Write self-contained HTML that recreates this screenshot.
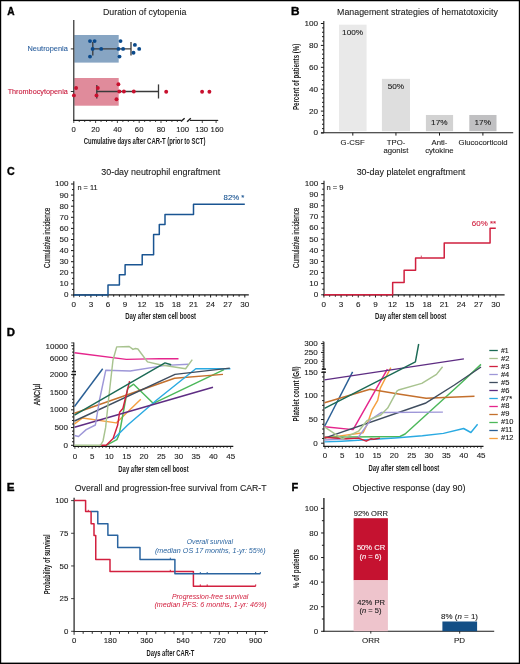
<!DOCTYPE html>
<html><head><meta charset="utf-8"><style>
html,body{margin:0;padding:0;background:#fff;}
svg{display:block;will-change:transform;}
text{font-family:"Liberation Sans",sans-serif;}
</style></head><body>
<svg width="520" height="664" viewBox="0 0 520 664">
<rect x="0" y="0" width="520" height="664" fill="#fff"/>
<text x="7.25" y="14.80" font-size="10.5" fill="#000" font-weight="bold" font-style="normal" textLength="7.33" lengthAdjust="spacingAndGlyphs" stroke="#000" stroke-width="0.35">A</text>
<text x="102.99" y="15.30" font-size="9.9" fill="#1a1a1a" font-weight="normal" font-style="normal" textLength="83.31" lengthAdjust="spacingAndGlyphs" stroke="#1a1a1a" stroke-width="0.1">Duration of cytopenia</text>
<rect x="74.30" y="35.00" width="44.40" height="27.60" fill="#87a5c3"/>
<rect x="74.30" y="78.00" width="44.40" height="27.70" fill="#e08b9b"/>
<line x1="73.80" y1="20.00" x2="73.80" y2="120.90" stroke="#1a1a1a" stroke-width="1.1"/>
<line x1="73.30" y1="120.40" x2="181.40" y2="120.40" stroke="#1a1a1a" stroke-width="1.1"/>
<line x1="181.00" y1="121.50" x2="184.60" y2="118.20" stroke="#1a1a1a" stroke-width="1.4"/>
<line x1="187.10" y1="121.70" x2="190.80" y2="118.30" stroke="#1a1a1a" stroke-width="1.4"/>
<line x1="190.00" y1="120.40" x2="218.20" y2="120.40" stroke="#1a1a1a" stroke-width="1.1"/>
<line x1="73.80" y1="120.40" x2="73.80" y2="123.00" stroke="#1a1a1a" stroke-width="0.8"/>
<line x1="79.25" y1="120.40" x2="79.25" y2="122.00" stroke="#1a1a1a" stroke-width="0.8"/>
<line x1="84.70" y1="120.40" x2="84.70" y2="122.00" stroke="#1a1a1a" stroke-width="0.8"/>
<line x1="90.15" y1="120.40" x2="90.15" y2="122.00" stroke="#1a1a1a" stroke-width="0.8"/>
<line x1="95.60" y1="120.40" x2="95.60" y2="123.00" stroke="#1a1a1a" stroke-width="0.8"/>
<line x1="101.05" y1="120.40" x2="101.05" y2="122.00" stroke="#1a1a1a" stroke-width="0.8"/>
<line x1="106.50" y1="120.40" x2="106.50" y2="122.00" stroke="#1a1a1a" stroke-width="0.8"/>
<line x1="111.95" y1="120.40" x2="111.95" y2="122.00" stroke="#1a1a1a" stroke-width="0.8"/>
<line x1="117.40" y1="120.40" x2="117.40" y2="123.00" stroke="#1a1a1a" stroke-width="0.8"/>
<line x1="122.85" y1="120.40" x2="122.85" y2="122.00" stroke="#1a1a1a" stroke-width="0.8"/>
<line x1="128.30" y1="120.40" x2="128.30" y2="122.00" stroke="#1a1a1a" stroke-width="0.8"/>
<line x1="133.75" y1="120.40" x2="133.75" y2="122.00" stroke="#1a1a1a" stroke-width="0.8"/>
<line x1="139.20" y1="120.40" x2="139.20" y2="123.00" stroke="#1a1a1a" stroke-width="0.8"/>
<line x1="144.65" y1="120.40" x2="144.65" y2="122.00" stroke="#1a1a1a" stroke-width="0.8"/>
<line x1="150.10" y1="120.40" x2="150.10" y2="122.00" stroke="#1a1a1a" stroke-width="0.8"/>
<line x1="155.55" y1="120.40" x2="155.55" y2="122.00" stroke="#1a1a1a" stroke-width="0.8"/>
<line x1="161.00" y1="120.40" x2="161.00" y2="123.00" stroke="#1a1a1a" stroke-width="0.8"/>
<line x1="166.45" y1="120.40" x2="166.45" y2="122.00" stroke="#1a1a1a" stroke-width="0.8"/>
<line x1="171.90" y1="120.40" x2="171.90" y2="122.00" stroke="#1a1a1a" stroke-width="0.8"/>
<line x1="177.35" y1="120.40" x2="177.35" y2="122.00" stroke="#1a1a1a" stroke-width="0.8"/>
<line x1="202.30" y1="120.40" x2="202.30" y2="123.00" stroke="#1a1a1a" stroke-width="0.8"/>
<line x1="216.10" y1="120.40" x2="216.10" y2="123.00" stroke="#1a1a1a" stroke-width="0.8"/>
<text x="71.64" y="131.60" font-size="7.0" fill="#1a1a1a" font-weight="normal" font-style="normal" textLength="4.28" lengthAdjust="spacingAndGlyphs" stroke="#1a1a1a" stroke-width="0.1">0</text>
<text x="91.27" y="131.60" font-size="7.0" fill="#1a1a1a" font-weight="normal" font-style="normal" textLength="8.57" lengthAdjust="spacingAndGlyphs" stroke="#1a1a1a" stroke-width="0.1">20</text>
<text x="113.18" y="131.60" font-size="7.0" fill="#1a1a1a" font-weight="normal" font-style="normal" textLength="8.57" lengthAdjust="spacingAndGlyphs" stroke="#1a1a1a" stroke-width="0.1">40</text>
<text x="134.87" y="131.60" font-size="7.0" fill="#1a1a1a" font-weight="normal" font-style="normal" textLength="8.57" lengthAdjust="spacingAndGlyphs" stroke="#1a1a1a" stroke-width="0.1">60</text>
<text x="156.69" y="131.60" font-size="7.0" fill="#1a1a1a" font-weight="normal" font-style="normal" textLength="8.57" lengthAdjust="spacingAndGlyphs" stroke="#1a1a1a" stroke-width="0.1">80</text>
<text x="176.24" y="131.60" font-size="7.0" fill="#1a1a1a" font-weight="normal" font-style="normal" textLength="12.85" lengthAdjust="spacingAndGlyphs" stroke="#1a1a1a" stroke-width="0.1">100</text>
<text x="195.24" y="131.60" font-size="7.0" fill="#1a1a1a" font-weight="normal" font-style="normal" textLength="12.85" lengthAdjust="spacingAndGlyphs" stroke="#1a1a1a" stroke-width="0.1">130</text>
<text x="210.64" y="131.60" font-size="7.0" fill="#1a1a1a" font-weight="normal" font-style="normal" textLength="12.85" lengthAdjust="spacingAndGlyphs" stroke="#1a1a1a" stroke-width="0.1">160</text>
<text x="83.76" y="144.40" font-size="9.9" fill="#1a1a1a" font-weight="bold" font-style="normal" textLength="121.72" lengthAdjust="spacingAndGlyphs">Cumulative days after CAR-T (prior to SCT)</text>
<line x1="70.80" y1="48.90" x2="73.80" y2="48.90" stroke="#1a1a1a" stroke-width="0.9"/>
<line x1="70.80" y1="91.50" x2="73.80" y2="91.50" stroke="#1a1a1a" stroke-width="0.9"/>
<text x="27.51" y="51.00" font-size="7.4" fill="#2a5f9e" font-weight="normal" font-style="normal" textLength="40.32" lengthAdjust="spacingAndGlyphs" stroke="#2a5f9e" stroke-width="0.1">Neutropenia</text>
<text x="7.65" y="93.60" font-size="7.4" fill="#c8173a" font-weight="normal" font-style="normal" textLength="60.16" lengthAdjust="spacingAndGlyphs" stroke="#c8173a" stroke-width="0.1">Thrombocytopenia</text>
<line x1="92.80" y1="48.90" x2="131.00" y2="48.90" stroke="#3a3a3a" stroke-width="1.3"/>
<line x1="92.80" y1="42.00" x2="92.80" y2="55.40" stroke="#3a3a3a" stroke-width="1.3"/>
<line x1="131.00" y1="42.00" x2="131.00" y2="55.40" stroke="#3a3a3a" stroke-width="1.3"/>
<line x1="96.80" y1="91.50" x2="158.50" y2="91.50" stroke="#3a3a3a" stroke-width="1.3"/>
<line x1="96.80" y1="85.00" x2="96.80" y2="98.50" stroke="#3a3a3a" stroke-width="1.3"/>
<line x1="158.50" y1="84.40" x2="158.50" y2="98.50" stroke="#3a3a3a" stroke-width="1.3"/>
<circle cx="90.00" cy="41.10" r="1.95" fill="#0b4a8b"/>
<circle cx="94.60" cy="41.10" r="1.95" fill="#0b4a8b"/>
<circle cx="92.60" cy="48.90" r="1.95" fill="#0b4a8b"/>
<circle cx="101.20" cy="48.90" r="1.95" fill="#0b4a8b"/>
<circle cx="90.00" cy="56.60" r="1.95" fill="#0b4a8b"/>
<circle cx="120.50" cy="41.10" r="1.95" fill="#0b4a8b"/>
<circle cx="118.50" cy="48.90" r="1.95" fill="#0b4a8b"/>
<circle cx="123.10" cy="48.90" r="1.95" fill="#0b4a8b"/>
<circle cx="119.50" cy="56.60" r="1.95" fill="#0b4a8b"/>
<circle cx="134.90" cy="44.90" r="1.95" fill="#0b4a8b"/>
<circle cx="139.20" cy="48.90" r="1.95" fill="#0b4a8b"/>
<circle cx="133.50" cy="52.80" r="1.95" fill="#0b4a8b"/>
<circle cx="76.10" cy="88.00" r="1.95" fill="#c8102e"/>
<circle cx="73.90" cy="95.40" r="1.95" fill="#c8102e"/>
<circle cx="97.80" cy="88.00" r="1.95" fill="#c8102e"/>
<circle cx="96.50" cy="95.40" r="1.95" fill="#c8102e"/>
<circle cx="118.40" cy="84.20" r="1.95" fill="#c8102e"/>
<circle cx="119.30" cy="91.50" r="1.95" fill="#c8102e"/>
<circle cx="123.90" cy="91.50" r="1.95" fill="#c8102e"/>
<circle cx="133.80" cy="91.50" r="1.95" fill="#c8102e"/>
<circle cx="116.50" cy="99.20" r="1.95" fill="#c8102e"/>
<circle cx="166.20" cy="91.70" r="1.95" fill="#c8102e"/>
<circle cx="202.10" cy="91.70" r="1.95" fill="#c8102e"/>
<circle cx="209.40" cy="91.70" r="1.95" fill="#c8102e"/>
<text x="290.93" y="15.00" font-size="10.5" fill="#000" font-weight="bold" font-style="normal" textLength="8.52" lengthAdjust="spacingAndGlyphs" stroke="#000" stroke-width="0.35">B</text>
<text x="337.09" y="15.00" font-size="9.9" fill="#1a1a1a" font-weight="normal" font-style="normal" textLength="160.72" lengthAdjust="spacingAndGlyphs" stroke="#1a1a1a" stroke-width="0.1">Management strategies of hematotoxicity</text>
<line x1="323.80" y1="21.00" x2="323.80" y2="132.90" stroke="#1a1a1a" stroke-width="1.1"/>
<line x1="321.00" y1="132.70" x2="513.20" y2="132.70" stroke="#1a1a1a" stroke-width="1.1"/>
<line x1="320.90" y1="133.00" x2="323.80" y2="133.00" stroke="#1a1a1a" stroke-width="1.0"/>
<line x1="322.00" y1="128.62" x2="323.80" y2="128.62" stroke="#1a1a1a" stroke-width="1.0"/>
<line x1="322.00" y1="124.24" x2="323.80" y2="124.24" stroke="#1a1a1a" stroke-width="1.0"/>
<line x1="322.00" y1="119.86" x2="323.80" y2="119.86" stroke="#1a1a1a" stroke-width="1.0"/>
<line x1="322.00" y1="115.48" x2="323.80" y2="115.48" stroke="#1a1a1a" stroke-width="1.0"/>
<line x1="320.90" y1="111.10" x2="323.80" y2="111.10" stroke="#1a1a1a" stroke-width="1.0"/>
<line x1="322.00" y1="106.72" x2="323.80" y2="106.72" stroke="#1a1a1a" stroke-width="1.0"/>
<line x1="322.00" y1="102.34" x2="323.80" y2="102.34" stroke="#1a1a1a" stroke-width="1.0"/>
<line x1="322.00" y1="97.96" x2="323.80" y2="97.96" stroke="#1a1a1a" stroke-width="1.0"/>
<line x1="322.00" y1="93.58" x2="323.80" y2="93.58" stroke="#1a1a1a" stroke-width="1.0"/>
<line x1="320.90" y1="89.20" x2="323.80" y2="89.20" stroke="#1a1a1a" stroke-width="1.0"/>
<line x1="322.00" y1="84.82" x2="323.80" y2="84.82" stroke="#1a1a1a" stroke-width="1.0"/>
<line x1="322.00" y1="80.44" x2="323.80" y2="80.44" stroke="#1a1a1a" stroke-width="1.0"/>
<line x1="322.00" y1="76.06" x2="323.80" y2="76.06" stroke="#1a1a1a" stroke-width="1.0"/>
<line x1="322.00" y1="71.68" x2="323.80" y2="71.68" stroke="#1a1a1a" stroke-width="1.0"/>
<line x1="320.90" y1="67.30" x2="323.80" y2="67.30" stroke="#1a1a1a" stroke-width="1.0"/>
<line x1="322.00" y1="62.92" x2="323.80" y2="62.92" stroke="#1a1a1a" stroke-width="1.0"/>
<line x1="322.00" y1="58.54" x2="323.80" y2="58.54" stroke="#1a1a1a" stroke-width="1.0"/>
<line x1="322.00" y1="54.16" x2="323.80" y2="54.16" stroke="#1a1a1a" stroke-width="1.0"/>
<line x1="322.00" y1="49.78" x2="323.80" y2="49.78" stroke="#1a1a1a" stroke-width="1.0"/>
<line x1="320.90" y1="45.40" x2="323.80" y2="45.40" stroke="#1a1a1a" stroke-width="1.0"/>
<line x1="322.00" y1="41.02" x2="323.80" y2="41.02" stroke="#1a1a1a" stroke-width="1.0"/>
<line x1="322.00" y1="36.64" x2="323.80" y2="36.64" stroke="#1a1a1a" stroke-width="1.0"/>
<line x1="322.00" y1="32.26" x2="323.80" y2="32.26" stroke="#1a1a1a" stroke-width="1.0"/>
<line x1="322.00" y1="27.88" x2="323.80" y2="27.88" stroke="#1a1a1a" stroke-width="1.0"/>
<line x1="320.90" y1="23.50" x2="323.80" y2="23.50" stroke="#1a1a1a" stroke-width="1.0"/>
<text x="313.54" y="135.40" font-size="7.8" fill="#1a1a1a" font-weight="normal" font-style="normal" textLength="4.56" lengthAdjust="spacingAndGlyphs" stroke="#1a1a1a" stroke-width="0.1">0</text>
<text x="309.00" y="113.50" font-size="7.8" fill="#1a1a1a" font-weight="normal" font-style="normal" textLength="9.11" lengthAdjust="spacingAndGlyphs" stroke="#1a1a1a" stroke-width="0.1">20</text>
<text x="309.00" y="91.60" font-size="7.8" fill="#1a1a1a" font-weight="normal" font-style="normal" textLength="9.11" lengthAdjust="spacingAndGlyphs" stroke="#1a1a1a" stroke-width="0.1">40</text>
<text x="309.00" y="69.70" font-size="7.8" fill="#1a1a1a" font-weight="normal" font-style="normal" textLength="9.11" lengthAdjust="spacingAndGlyphs" stroke="#1a1a1a" stroke-width="0.1">60</text>
<text x="309.00" y="47.80" font-size="7.8" fill="#1a1a1a" font-weight="normal" font-style="normal" textLength="9.11" lengthAdjust="spacingAndGlyphs" stroke="#1a1a1a" stroke-width="0.1">80</text>
<text x="304.45" y="25.90" font-size="7.8" fill="#1a1a1a" font-weight="normal" font-style="normal" textLength="13.67" lengthAdjust="spacingAndGlyphs" stroke="#1a1a1a" stroke-width="0.1">100</text>
<rect x="339.00" y="24.70" width="27.60" height="106.50" fill="#e9e9e9"/>
<text x="342.13" y="34.70" font-size="7.6" fill="#1a1a1a" font-weight="normal" font-style="normal" textLength="20.99" lengthAdjust="spacingAndGlyphs" stroke="#1a1a1a" stroke-width="0.1">100%</text>
<line x1="352.80" y1="132.70" x2="352.80" y2="135.60" stroke="#1a1a1a" stroke-width="1.0"/>
<rect x="381.90" y="78.85" width="28.10" height="52.35" fill="#dedede"/>
<text x="387.72" y="88.85" font-size="7.6" fill="#1a1a1a" font-weight="normal" font-style="normal" textLength="16.43" lengthAdjust="spacingAndGlyphs" stroke="#1a1a1a" stroke-width="0.1">50%</text>
<line x1="395.95" y1="132.70" x2="395.95" y2="135.60" stroke="#1a1a1a" stroke-width="1.0"/>
<rect x="425.90" y="114.98" width="27.20" height="16.21" fill="#d2d2d2"/>
<text x="431.13" y="124.98" font-size="7.6" fill="#1a1a1a" font-weight="normal" font-style="normal" textLength="16.43" lengthAdjust="spacingAndGlyphs" stroke="#1a1a1a" stroke-width="0.1">17%</text>
<line x1="439.50" y1="132.70" x2="439.50" y2="135.60" stroke="#1a1a1a" stroke-width="1.0"/>
<rect x="469.30" y="114.98" width="27.20" height="16.21" fill="#c0c0c2"/>
<text x="474.53" y="124.98" font-size="7.6" fill="#1a1a1a" font-weight="normal" font-style="normal" textLength="16.43" lengthAdjust="spacingAndGlyphs" stroke="#1a1a1a" stroke-width="0.1">17%</text>
<line x1="482.90" y1="132.70" x2="482.90" y2="135.60" stroke="#1a1a1a" stroke-width="1.0"/>
<text x="340.62" y="145.10" font-size="7.9" fill="#1a1a1a" font-weight="normal" font-style="normal" textLength="24.08" lengthAdjust="spacingAndGlyphs" stroke="#1a1a1a" stroke-width="0.1">G-CSF</text>
<text x="386.85" y="145.10" font-size="7.9" fill="#1a1a1a" font-weight="normal" font-style="normal" textLength="18.49" lengthAdjust="spacingAndGlyphs" stroke="#1a1a1a" stroke-width="0.1">TPO-</text>
<text x="383.40" y="153.00" font-size="7.9" fill="#1a1a1a" font-weight="normal" font-style="normal" textLength="24.97" lengthAdjust="spacingAndGlyphs" stroke="#1a1a1a" stroke-width="0.1">agonist</text>
<text x="431.50" y="145.10" font-size="7.9" fill="#1a1a1a" font-weight="normal" font-style="normal" textLength="15.92" lengthAdjust="spacingAndGlyphs" stroke="#1a1a1a" stroke-width="0.1">Anti-</text>
<text x="425.13" y="153.00" font-size="7.9" fill="#1a1a1a" font-weight="normal" font-style="normal" textLength="28.40" lengthAdjust="spacingAndGlyphs" stroke="#1a1a1a" stroke-width="0.1">cytokine</text>
<text x="458.44" y="145.10" font-size="7.9" fill="#1a1a1a" font-weight="normal" font-style="normal" textLength="49.05" lengthAdjust="spacingAndGlyphs" stroke="#1a1a1a" stroke-width="0.1">Glucocorticoid</text>
<text x="299.00" y="110.10" font-size="9.2" fill="#1a1a1a" font-weight="bold" font-style="normal" textLength="66.41" lengthAdjust="spacingAndGlyphs" transform="rotate(-90 299.00 110.10)">Percent of patients (%)</text>
<text x="7.07" y="175.40" font-size="10.5" fill="#000" font-weight="bold" font-style="normal" textLength="7.72" lengthAdjust="spacingAndGlyphs" stroke="#000" stroke-width="0.35">C</text>
<text x="101.24" y="175.30" font-size="9.9" fill="#1a1a1a" font-weight="normal" font-style="normal" textLength="119.02" lengthAdjust="spacingAndGlyphs" stroke="#1a1a1a" stroke-width="0.1">30-day neutrophil engraftment</text>
<line x1="73.80" y1="181.20" x2="73.80" y2="295.40" stroke="#1a1a1a" stroke-width="1.1"/>
<line x1="73.30" y1="294.90" x2="248.80" y2="294.90" stroke="#1a1a1a" stroke-width="1.1"/>
<line x1="71.00" y1="295.00" x2="73.80" y2="295.00" stroke="#1a1a1a" stroke-width="1.0"/>
<line x1="72.00" y1="289.45" x2="73.80" y2="289.45" stroke="#1a1a1a" stroke-width="1.0"/>
<line x1="71.00" y1="283.90" x2="73.80" y2="283.90" stroke="#1a1a1a" stroke-width="1.0"/>
<line x1="72.00" y1="278.35" x2="73.80" y2="278.35" stroke="#1a1a1a" stroke-width="1.0"/>
<line x1="71.00" y1="272.80" x2="73.80" y2="272.80" stroke="#1a1a1a" stroke-width="1.0"/>
<line x1="72.00" y1="267.25" x2="73.80" y2="267.25" stroke="#1a1a1a" stroke-width="1.0"/>
<line x1="71.00" y1="261.70" x2="73.80" y2="261.70" stroke="#1a1a1a" stroke-width="1.0"/>
<line x1="72.00" y1="256.15" x2="73.80" y2="256.15" stroke="#1a1a1a" stroke-width="1.0"/>
<line x1="71.00" y1="250.60" x2="73.80" y2="250.60" stroke="#1a1a1a" stroke-width="1.0"/>
<line x1="72.00" y1="245.05" x2="73.80" y2="245.05" stroke="#1a1a1a" stroke-width="1.0"/>
<line x1="71.00" y1="239.50" x2="73.80" y2="239.50" stroke="#1a1a1a" stroke-width="1.0"/>
<line x1="72.00" y1="233.95" x2="73.80" y2="233.95" stroke="#1a1a1a" stroke-width="1.0"/>
<line x1="71.00" y1="228.40" x2="73.80" y2="228.40" stroke="#1a1a1a" stroke-width="1.0"/>
<line x1="72.00" y1="222.85" x2="73.80" y2="222.85" stroke="#1a1a1a" stroke-width="1.0"/>
<line x1="71.00" y1="217.30" x2="73.80" y2="217.30" stroke="#1a1a1a" stroke-width="1.0"/>
<line x1="72.00" y1="211.75" x2="73.80" y2="211.75" stroke="#1a1a1a" stroke-width="1.0"/>
<line x1="71.00" y1="206.20" x2="73.80" y2="206.20" stroke="#1a1a1a" stroke-width="1.0"/>
<line x1="72.00" y1="200.65" x2="73.80" y2="200.65" stroke="#1a1a1a" stroke-width="1.0"/>
<line x1="71.00" y1="195.10" x2="73.80" y2="195.10" stroke="#1a1a1a" stroke-width="1.0"/>
<line x1="72.00" y1="189.55" x2="73.80" y2="189.55" stroke="#1a1a1a" stroke-width="1.0"/>
<line x1="71.00" y1="184.00" x2="73.80" y2="184.00" stroke="#1a1a1a" stroke-width="1.0"/>
<text x="64.08" y="297.40" font-size="7.8" fill="#1a1a1a" font-weight="normal" font-style="normal" textLength="4.51" lengthAdjust="spacingAndGlyphs" stroke="#1a1a1a" stroke-width="0.1">0</text>
<text x="59.58" y="286.30" font-size="7.8" fill="#1a1a1a" font-weight="normal" font-style="normal" textLength="9.02" lengthAdjust="spacingAndGlyphs" stroke="#1a1a1a" stroke-width="0.1">10</text>
<text x="59.58" y="275.20" font-size="7.8" fill="#1a1a1a" font-weight="normal" font-style="normal" textLength="9.02" lengthAdjust="spacingAndGlyphs" stroke="#1a1a1a" stroke-width="0.1">20</text>
<text x="59.58" y="264.10" font-size="7.8" fill="#1a1a1a" font-weight="normal" font-style="normal" textLength="9.02" lengthAdjust="spacingAndGlyphs" stroke="#1a1a1a" stroke-width="0.1">30</text>
<text x="59.58" y="253.00" font-size="7.8" fill="#1a1a1a" font-weight="normal" font-style="normal" textLength="9.02" lengthAdjust="spacingAndGlyphs" stroke="#1a1a1a" stroke-width="0.1">40</text>
<text x="59.58" y="241.90" font-size="7.8" fill="#1a1a1a" font-weight="normal" font-style="normal" textLength="9.02" lengthAdjust="spacingAndGlyphs" stroke="#1a1a1a" stroke-width="0.1">50</text>
<text x="59.58" y="230.80" font-size="7.8" fill="#1a1a1a" font-weight="normal" font-style="normal" textLength="9.02" lengthAdjust="spacingAndGlyphs" stroke="#1a1a1a" stroke-width="0.1">60</text>
<text x="59.58" y="219.70" font-size="7.8" fill="#1a1a1a" font-weight="normal" font-style="normal" textLength="9.02" lengthAdjust="spacingAndGlyphs" stroke="#1a1a1a" stroke-width="0.1">70</text>
<text x="59.58" y="208.60" font-size="7.8" fill="#1a1a1a" font-weight="normal" font-style="normal" textLength="9.02" lengthAdjust="spacingAndGlyphs" stroke="#1a1a1a" stroke-width="0.1">80</text>
<text x="59.58" y="197.50" font-size="7.8" fill="#1a1a1a" font-weight="normal" font-style="normal" textLength="9.02" lengthAdjust="spacingAndGlyphs" stroke="#1a1a1a" stroke-width="0.1">90</text>
<text x="55.08" y="186.40" font-size="7.8" fill="#1a1a1a" font-weight="normal" font-style="normal" textLength="13.53" lengthAdjust="spacingAndGlyphs" stroke="#1a1a1a" stroke-width="0.1">100</text>
<line x1="73.80" y1="294.90" x2="73.80" y2="297.50" stroke="#1a1a1a" stroke-width="1.0"/>
<line x1="79.50" y1="294.90" x2="79.50" y2="296.70" stroke="#1a1a1a" stroke-width="1.0"/>
<line x1="85.20" y1="294.90" x2="85.20" y2="296.70" stroke="#1a1a1a" stroke-width="1.0"/>
<line x1="90.90" y1="294.90" x2="90.90" y2="297.50" stroke="#1a1a1a" stroke-width="1.0"/>
<line x1="96.60" y1="294.90" x2="96.60" y2="296.70" stroke="#1a1a1a" stroke-width="1.0"/>
<line x1="102.30" y1="294.90" x2="102.30" y2="296.70" stroke="#1a1a1a" stroke-width="1.0"/>
<line x1="108.00" y1="294.90" x2="108.00" y2="297.50" stroke="#1a1a1a" stroke-width="1.0"/>
<line x1="113.70" y1="294.90" x2="113.70" y2="296.70" stroke="#1a1a1a" stroke-width="1.0"/>
<line x1="119.40" y1="294.90" x2="119.40" y2="296.70" stroke="#1a1a1a" stroke-width="1.0"/>
<line x1="125.10" y1="294.90" x2="125.10" y2="297.50" stroke="#1a1a1a" stroke-width="1.0"/>
<line x1="130.80" y1="294.90" x2="130.80" y2="296.70" stroke="#1a1a1a" stroke-width="1.0"/>
<line x1="136.50" y1="294.90" x2="136.50" y2="296.70" stroke="#1a1a1a" stroke-width="1.0"/>
<line x1="142.20" y1="294.90" x2="142.20" y2="297.50" stroke="#1a1a1a" stroke-width="1.0"/>
<line x1="147.90" y1="294.90" x2="147.90" y2="296.70" stroke="#1a1a1a" stroke-width="1.0"/>
<line x1="153.60" y1="294.90" x2="153.60" y2="296.70" stroke="#1a1a1a" stroke-width="1.0"/>
<line x1="159.30" y1="294.90" x2="159.30" y2="297.50" stroke="#1a1a1a" stroke-width="1.0"/>
<line x1="165.00" y1="294.90" x2="165.00" y2="296.70" stroke="#1a1a1a" stroke-width="1.0"/>
<line x1="170.70" y1="294.90" x2="170.70" y2="296.70" stroke="#1a1a1a" stroke-width="1.0"/>
<line x1="176.40" y1="294.90" x2="176.40" y2="297.50" stroke="#1a1a1a" stroke-width="1.0"/>
<line x1="182.10" y1="294.90" x2="182.10" y2="296.70" stroke="#1a1a1a" stroke-width="1.0"/>
<line x1="187.80" y1="294.90" x2="187.80" y2="296.70" stroke="#1a1a1a" stroke-width="1.0"/>
<line x1="193.50" y1="294.90" x2="193.50" y2="297.50" stroke="#1a1a1a" stroke-width="1.0"/>
<line x1="199.20" y1="294.90" x2="199.20" y2="296.70" stroke="#1a1a1a" stroke-width="1.0"/>
<line x1="204.90" y1="294.90" x2="204.90" y2="296.70" stroke="#1a1a1a" stroke-width="1.0"/>
<line x1="210.60" y1="294.90" x2="210.60" y2="297.50" stroke="#1a1a1a" stroke-width="1.0"/>
<line x1="216.30" y1="294.90" x2="216.30" y2="296.70" stroke="#1a1a1a" stroke-width="1.0"/>
<line x1="222.00" y1="294.90" x2="222.00" y2="296.70" stroke="#1a1a1a" stroke-width="1.0"/>
<line x1="227.70" y1="294.90" x2="227.70" y2="297.50" stroke="#1a1a1a" stroke-width="1.0"/>
<line x1="233.40" y1="294.90" x2="233.40" y2="296.70" stroke="#1a1a1a" stroke-width="1.0"/>
<line x1="239.10" y1="294.90" x2="239.10" y2="296.70" stroke="#1a1a1a" stroke-width="1.0"/>
<line x1="244.80" y1="294.90" x2="244.80" y2="297.50" stroke="#1a1a1a" stroke-width="1.0"/>
<text x="71.53" y="306.60" font-size="7.8" fill="#1a1a1a" font-weight="normal" font-style="normal" textLength="4.51" lengthAdjust="spacingAndGlyphs" stroke="#1a1a1a" stroke-width="0.1">0</text>
<text x="88.65" y="306.60" font-size="7.8" fill="#1a1a1a" font-weight="normal" font-style="normal" textLength="4.51" lengthAdjust="spacingAndGlyphs" stroke="#1a1a1a" stroke-width="0.1">3</text>
<text x="105.71" y="306.60" font-size="7.8" fill="#1a1a1a" font-weight="normal" font-style="normal" textLength="4.51" lengthAdjust="spacingAndGlyphs" stroke="#1a1a1a" stroke-width="0.1">6</text>
<text x="122.85" y="306.60" font-size="7.8" fill="#1a1a1a" font-weight="normal" font-style="normal" textLength="4.51" lengthAdjust="spacingAndGlyphs" stroke="#1a1a1a" stroke-width="0.1">9</text>
<text x="137.60" y="306.60" font-size="7.8" fill="#1a1a1a" font-weight="normal" font-style="normal" textLength="9.02" lengthAdjust="spacingAndGlyphs" stroke="#1a1a1a" stroke-width="0.1">12</text>
<text x="154.66" y="306.60" font-size="7.8" fill="#1a1a1a" font-weight="normal" font-style="normal" textLength="9.02" lengthAdjust="spacingAndGlyphs" stroke="#1a1a1a" stroke-width="0.1">15</text>
<text x="171.76" y="306.60" font-size="7.8" fill="#1a1a1a" font-weight="normal" font-style="normal" textLength="9.02" lengthAdjust="spacingAndGlyphs" stroke="#1a1a1a" stroke-width="0.1">18</text>
<text x="188.98" y="306.60" font-size="7.8" fill="#1a1a1a" font-weight="normal" font-style="normal" textLength="9.02" lengthAdjust="spacingAndGlyphs" stroke="#1a1a1a" stroke-width="0.1">21</text>
<text x="206.02" y="306.60" font-size="7.8" fill="#1a1a1a" font-weight="normal" font-style="normal" textLength="9.02" lengthAdjust="spacingAndGlyphs" stroke="#1a1a1a" stroke-width="0.1">24</text>
<text x="223.20" y="306.60" font-size="7.8" fill="#1a1a1a" font-weight="normal" font-style="normal" textLength="9.02" lengthAdjust="spacingAndGlyphs" stroke="#1a1a1a" stroke-width="0.1">27</text>
<text x="240.28" y="306.60" font-size="7.8" fill="#1a1a1a" font-weight="normal" font-style="normal" textLength="9.02" lengthAdjust="spacingAndGlyphs" stroke="#1a1a1a" stroke-width="0.1">30</text>
<text x="125.21" y="319.20" font-size="9.9" fill="#1a1a1a" font-weight="bold" font-style="normal" textLength="70.76" lengthAdjust="spacingAndGlyphs">Day after stem cell boost</text>
<text x="49.80" y="267.92" font-size="9.8" fill="#1a1a1a" font-weight="normal" font-style="normal" textLength="60.30" lengthAdjust="spacingAndGlyphs" stroke="#1a1a1a" stroke-width="0.2" transform="rotate(-90 49.80 267.92)">Cumulative incidence</text>
<text x="77.52" y="190.20" font-size="6.8" fill="#1a1a1a" font-weight="normal" font-style="normal" textLength="20.00" lengthAdjust="spacingAndGlyphs" stroke="#1a1a1a" stroke-width="0.1">n = 11</text>
<polyline points="73.80,295.00 108.00,295.00 108.00,284.93 119.40,284.93 119.40,274.86 125.10,274.86 125.10,264.78 142.20,264.78 142.20,254.71 153.60,254.71 153.60,234.61 159.30,234.61 159.30,224.53 165.00,224.53 165.00,214.45 193.50,214.45 193.50,204.37 244.80,204.37" fill="none" stroke="#1a5592" stroke-width="1.5" stroke-linejoin="round" stroke-linecap="butt"/>
<text x="223.55" y="200.30" font-size="6.8" fill="#1a5592" font-weight="normal" font-style="normal" textLength="20.86" lengthAdjust="spacingAndGlyphs" stroke="#1a5592" stroke-width="0.1">82% *</text>
<text x="356.64" y="175.30" font-size="9.9" fill="#1a1a1a" font-weight="normal" font-style="normal" textLength="108.74" lengthAdjust="spacingAndGlyphs" stroke="#1a1a1a" stroke-width="0.1">30-day platelet engraftment</text>
<line x1="324.00" y1="180.80" x2="324.00" y2="295.40" stroke="#1a1a1a" stroke-width="1.1"/>
<line x1="323.50" y1="294.90" x2="504.60" y2="294.90" stroke="#1a1a1a" stroke-width="1.1"/>
<line x1="321.20" y1="294.80" x2="324.00" y2="294.80" stroke="#1a1a1a" stroke-width="1.0"/>
<line x1="322.20" y1="289.24" x2="324.00" y2="289.24" stroke="#1a1a1a" stroke-width="1.0"/>
<line x1="321.20" y1="283.68" x2="324.00" y2="283.68" stroke="#1a1a1a" stroke-width="1.0"/>
<line x1="322.20" y1="278.12" x2="324.00" y2="278.12" stroke="#1a1a1a" stroke-width="1.0"/>
<line x1="321.20" y1="272.56" x2="324.00" y2="272.56" stroke="#1a1a1a" stroke-width="1.0"/>
<line x1="322.20" y1="267.00" x2="324.00" y2="267.00" stroke="#1a1a1a" stroke-width="1.0"/>
<line x1="321.20" y1="261.44" x2="324.00" y2="261.44" stroke="#1a1a1a" stroke-width="1.0"/>
<line x1="322.20" y1="255.88" x2="324.00" y2="255.88" stroke="#1a1a1a" stroke-width="1.0"/>
<line x1="321.20" y1="250.32" x2="324.00" y2="250.32" stroke="#1a1a1a" stroke-width="1.0"/>
<line x1="322.20" y1="244.76" x2="324.00" y2="244.76" stroke="#1a1a1a" stroke-width="1.0"/>
<line x1="321.20" y1="239.20" x2="324.00" y2="239.20" stroke="#1a1a1a" stroke-width="1.0"/>
<line x1="322.20" y1="233.64" x2="324.00" y2="233.64" stroke="#1a1a1a" stroke-width="1.0"/>
<line x1="321.20" y1="228.08" x2="324.00" y2="228.08" stroke="#1a1a1a" stroke-width="1.0"/>
<line x1="322.20" y1="222.52" x2="324.00" y2="222.52" stroke="#1a1a1a" stroke-width="1.0"/>
<line x1="321.20" y1="216.96" x2="324.00" y2="216.96" stroke="#1a1a1a" stroke-width="1.0"/>
<line x1="322.20" y1="211.40" x2="324.00" y2="211.40" stroke="#1a1a1a" stroke-width="1.0"/>
<line x1="321.20" y1="205.84" x2="324.00" y2="205.84" stroke="#1a1a1a" stroke-width="1.0"/>
<line x1="322.20" y1="200.28" x2="324.00" y2="200.28" stroke="#1a1a1a" stroke-width="1.0"/>
<line x1="321.20" y1="194.72" x2="324.00" y2="194.72" stroke="#1a1a1a" stroke-width="1.0"/>
<line x1="322.20" y1="189.16" x2="324.00" y2="189.16" stroke="#1a1a1a" stroke-width="1.0"/>
<line x1="321.20" y1="183.60" x2="324.00" y2="183.60" stroke="#1a1a1a" stroke-width="1.0"/>
<text x="313.78" y="297.20" font-size="7.8" fill="#1a1a1a" font-weight="normal" font-style="normal" textLength="4.51" lengthAdjust="spacingAndGlyphs" stroke="#1a1a1a" stroke-width="0.1">0</text>
<text x="309.28" y="286.08" font-size="7.8" fill="#1a1a1a" font-weight="normal" font-style="normal" textLength="9.02" lengthAdjust="spacingAndGlyphs" stroke="#1a1a1a" stroke-width="0.1">10</text>
<text x="309.28" y="274.96" font-size="7.8" fill="#1a1a1a" font-weight="normal" font-style="normal" textLength="9.02" lengthAdjust="spacingAndGlyphs" stroke="#1a1a1a" stroke-width="0.1">20</text>
<text x="309.28" y="263.84" font-size="7.8" fill="#1a1a1a" font-weight="normal" font-style="normal" textLength="9.02" lengthAdjust="spacingAndGlyphs" stroke="#1a1a1a" stroke-width="0.1">30</text>
<text x="309.28" y="252.72" font-size="7.8" fill="#1a1a1a" font-weight="normal" font-style="normal" textLength="9.02" lengthAdjust="spacingAndGlyphs" stroke="#1a1a1a" stroke-width="0.1">40</text>
<text x="309.28" y="241.60" font-size="7.8" fill="#1a1a1a" font-weight="normal" font-style="normal" textLength="9.02" lengthAdjust="spacingAndGlyphs" stroke="#1a1a1a" stroke-width="0.1">50</text>
<text x="309.28" y="230.48" font-size="7.8" fill="#1a1a1a" font-weight="normal" font-style="normal" textLength="9.02" lengthAdjust="spacingAndGlyphs" stroke="#1a1a1a" stroke-width="0.1">60</text>
<text x="309.28" y="219.36" font-size="7.8" fill="#1a1a1a" font-weight="normal" font-style="normal" textLength="9.02" lengthAdjust="spacingAndGlyphs" stroke="#1a1a1a" stroke-width="0.1">70</text>
<text x="309.28" y="208.24" font-size="7.8" fill="#1a1a1a" font-weight="normal" font-style="normal" textLength="9.02" lengthAdjust="spacingAndGlyphs" stroke="#1a1a1a" stroke-width="0.1">80</text>
<text x="309.28" y="197.12" font-size="7.8" fill="#1a1a1a" font-weight="normal" font-style="normal" textLength="9.02" lengthAdjust="spacingAndGlyphs" stroke="#1a1a1a" stroke-width="0.1">90</text>
<text x="304.78" y="186.00" font-size="7.8" fill="#1a1a1a" font-weight="normal" font-style="normal" textLength="13.53" lengthAdjust="spacingAndGlyphs" stroke="#1a1a1a" stroke-width="0.1">100</text>
<line x1="323.90" y1="294.90" x2="323.90" y2="297.50" stroke="#1a1a1a" stroke-width="1.0"/>
<line x1="329.63" y1="294.90" x2="329.63" y2="296.70" stroke="#1a1a1a" stroke-width="1.0"/>
<line x1="335.36" y1="294.90" x2="335.36" y2="296.70" stroke="#1a1a1a" stroke-width="1.0"/>
<line x1="341.09" y1="294.90" x2="341.09" y2="297.50" stroke="#1a1a1a" stroke-width="1.0"/>
<line x1="346.82" y1="294.90" x2="346.82" y2="296.70" stroke="#1a1a1a" stroke-width="1.0"/>
<line x1="352.55" y1="294.90" x2="352.55" y2="296.70" stroke="#1a1a1a" stroke-width="1.0"/>
<line x1="358.28" y1="294.90" x2="358.28" y2="297.50" stroke="#1a1a1a" stroke-width="1.0"/>
<line x1="364.01" y1="294.90" x2="364.01" y2="296.70" stroke="#1a1a1a" stroke-width="1.0"/>
<line x1="369.74" y1="294.90" x2="369.74" y2="296.70" stroke="#1a1a1a" stroke-width="1.0"/>
<line x1="375.47" y1="294.90" x2="375.47" y2="297.50" stroke="#1a1a1a" stroke-width="1.0"/>
<line x1="381.20" y1="294.90" x2="381.20" y2="296.70" stroke="#1a1a1a" stroke-width="1.0"/>
<line x1="386.93" y1="294.90" x2="386.93" y2="296.70" stroke="#1a1a1a" stroke-width="1.0"/>
<line x1="392.66" y1="294.90" x2="392.66" y2="297.50" stroke="#1a1a1a" stroke-width="1.0"/>
<line x1="398.39" y1="294.90" x2="398.39" y2="296.70" stroke="#1a1a1a" stroke-width="1.0"/>
<line x1="404.12" y1="294.90" x2="404.12" y2="296.70" stroke="#1a1a1a" stroke-width="1.0"/>
<line x1="409.85" y1="294.90" x2="409.85" y2="297.50" stroke="#1a1a1a" stroke-width="1.0"/>
<line x1="415.58" y1="294.90" x2="415.58" y2="296.70" stroke="#1a1a1a" stroke-width="1.0"/>
<line x1="421.31" y1="294.90" x2="421.31" y2="296.70" stroke="#1a1a1a" stroke-width="1.0"/>
<line x1="427.04" y1="294.90" x2="427.04" y2="297.50" stroke="#1a1a1a" stroke-width="1.0"/>
<line x1="432.77" y1="294.90" x2="432.77" y2="296.70" stroke="#1a1a1a" stroke-width="1.0"/>
<line x1="438.50" y1="294.90" x2="438.50" y2="296.70" stroke="#1a1a1a" stroke-width="1.0"/>
<line x1="444.23" y1="294.90" x2="444.23" y2="297.50" stroke="#1a1a1a" stroke-width="1.0"/>
<line x1="449.96" y1="294.90" x2="449.96" y2="296.70" stroke="#1a1a1a" stroke-width="1.0"/>
<line x1="455.69" y1="294.90" x2="455.69" y2="296.70" stroke="#1a1a1a" stroke-width="1.0"/>
<line x1="461.42" y1="294.90" x2="461.42" y2="297.50" stroke="#1a1a1a" stroke-width="1.0"/>
<line x1="467.15" y1="294.90" x2="467.15" y2="296.70" stroke="#1a1a1a" stroke-width="1.0"/>
<line x1="472.88" y1="294.90" x2="472.88" y2="296.70" stroke="#1a1a1a" stroke-width="1.0"/>
<line x1="478.61" y1="294.90" x2="478.61" y2="297.50" stroke="#1a1a1a" stroke-width="1.0"/>
<line x1="484.34" y1="294.90" x2="484.34" y2="296.70" stroke="#1a1a1a" stroke-width="1.0"/>
<line x1="490.07" y1="294.90" x2="490.07" y2="296.70" stroke="#1a1a1a" stroke-width="1.0"/>
<line x1="495.80" y1="294.90" x2="495.80" y2="297.50" stroke="#1a1a1a" stroke-width="1.0"/>
<text x="321.63" y="306.60" font-size="7.8" fill="#1a1a1a" font-weight="normal" font-style="normal" textLength="4.51" lengthAdjust="spacingAndGlyphs" stroke="#1a1a1a" stroke-width="0.1">0</text>
<text x="338.84" y="306.60" font-size="7.8" fill="#1a1a1a" font-weight="normal" font-style="normal" textLength="4.51" lengthAdjust="spacingAndGlyphs" stroke="#1a1a1a" stroke-width="0.1">3</text>
<text x="355.99" y="306.60" font-size="7.8" fill="#1a1a1a" font-weight="normal" font-style="normal" textLength="4.51" lengthAdjust="spacingAndGlyphs" stroke="#1a1a1a" stroke-width="0.1">6</text>
<text x="373.22" y="306.60" font-size="7.8" fill="#1a1a1a" font-weight="normal" font-style="normal" textLength="4.51" lengthAdjust="spacingAndGlyphs" stroke="#1a1a1a" stroke-width="0.1">9</text>
<text x="388.06" y="306.60" font-size="7.8" fill="#1a1a1a" font-weight="normal" font-style="normal" textLength="9.02" lengthAdjust="spacingAndGlyphs" stroke="#1a1a1a" stroke-width="0.1">12</text>
<text x="405.21" y="306.60" font-size="7.8" fill="#1a1a1a" font-weight="normal" font-style="normal" textLength="9.02" lengthAdjust="spacingAndGlyphs" stroke="#1a1a1a" stroke-width="0.1">15</text>
<text x="422.40" y="306.60" font-size="7.8" fill="#1a1a1a" font-weight="normal" font-style="normal" textLength="9.02" lengthAdjust="spacingAndGlyphs" stroke="#1a1a1a" stroke-width="0.1">18</text>
<text x="439.71" y="306.60" font-size="7.8" fill="#1a1a1a" font-weight="normal" font-style="normal" textLength="9.02" lengthAdjust="spacingAndGlyphs" stroke="#1a1a1a" stroke-width="0.1">21</text>
<text x="456.84" y="306.60" font-size="7.8" fill="#1a1a1a" font-weight="normal" font-style="normal" textLength="9.02" lengthAdjust="spacingAndGlyphs" stroke="#1a1a1a" stroke-width="0.1">24</text>
<text x="474.11" y="306.60" font-size="7.8" fill="#1a1a1a" font-weight="normal" font-style="normal" textLength="9.02" lengthAdjust="spacingAndGlyphs" stroke="#1a1a1a" stroke-width="0.1">27</text>
<text x="491.28" y="306.60" font-size="7.8" fill="#1a1a1a" font-weight="normal" font-style="normal" textLength="9.02" lengthAdjust="spacingAndGlyphs" stroke="#1a1a1a" stroke-width="0.1">30</text>
<text x="375.11" y="319.20" font-size="9.9" fill="#1a1a1a" font-weight="bold" font-style="normal" textLength="71.17" lengthAdjust="spacingAndGlyphs">Day after stem cell boost</text>
<text x="299.30" y="267.92" font-size="9.8" fill="#1a1a1a" font-weight="normal" font-style="normal" textLength="60.30" lengthAdjust="spacingAndGlyphs" stroke="#1a1a1a" stroke-width="0.2" transform="rotate(-90 299.30 267.92)">Cumulative incidence</text>
<text x="326.51" y="190.20" font-size="6.8" fill="#1a1a1a" font-weight="normal" font-style="normal" textLength="17.05" lengthAdjust="spacingAndGlyphs" stroke="#1a1a1a" stroke-width="0.1">n = 9</text>
<polyline points="323.90,294.80 392.66,294.80 392.66,282.50 404.12,282.50 404.12,270.20 415.58,270.20 415.58,257.90 444.23,257.90 444.23,243.06 490.07,243.06 490.07,228.32 495.80,228.32" fill="none" stroke="#d0203f" stroke-width="1.5" stroke-linejoin="round" stroke-linecap="butt"/>
<line x1="421.30" y1="257.50" x2="421.30" y2="255.60" stroke="#d0203f" stroke-width="0.8"/>
<text x="471.80" y="226.00" font-size="6.8" fill="#d0203f" font-weight="normal" font-style="normal" textLength="24.30" lengthAdjust="spacingAndGlyphs" stroke="#d0203f" stroke-width="0.1">60% **</text>
<text x="6.76" y="336.40" font-size="10.5" fill="#000" font-weight="bold" font-style="normal" textLength="8.22" lengthAdjust="spacingAndGlyphs" stroke="#000" stroke-width="0.35">D</text>
<line x1="73.80" y1="342.50" x2="73.80" y2="446.90" stroke="#1a1a1a" stroke-width="1.1"/>
<line x1="73.30" y1="446.40" x2="233.30" y2="446.40" stroke="#1a1a1a" stroke-width="1.1"/>
<line x1="72.00" y1="368.10" x2="73.80" y2="368.10" stroke="#1a1a1a" stroke-width="1.0"/>
<line x1="72.00" y1="364.90" x2="73.80" y2="364.90" stroke="#1a1a1a" stroke-width="1.0"/>
<line x1="72.00" y1="361.70" x2="73.80" y2="361.70" stroke="#1a1a1a" stroke-width="1.0"/>
<line x1="71.20" y1="358.50" x2="73.80" y2="358.50" stroke="#1a1a1a" stroke-width="1.0"/>
<line x1="72.00" y1="355.30" x2="73.80" y2="355.30" stroke="#1a1a1a" stroke-width="1.0"/>
<line x1="72.00" y1="352.10" x2="73.80" y2="352.10" stroke="#1a1a1a" stroke-width="1.0"/>
<line x1="72.00" y1="348.90" x2="73.80" y2="348.90" stroke="#1a1a1a" stroke-width="1.0"/>
<line x1="71.20" y1="345.70" x2="73.80" y2="345.70" stroke="#1a1a1a" stroke-width="1.0"/>
<line x1="71.20" y1="342.90" x2="73.80" y2="342.90" stroke="#1a1a1a" stroke-width="0.8"/>
<line x1="71.00" y1="445.30" x2="73.80" y2="445.30" stroke="#1a1a1a" stroke-width="1.0"/>
<line x1="72.00" y1="441.75" x2="73.80" y2="441.75" stroke="#1a1a1a" stroke-width="1.0"/>
<line x1="72.00" y1="438.21" x2="73.80" y2="438.21" stroke="#1a1a1a" stroke-width="1.0"/>
<line x1="72.00" y1="434.67" x2="73.80" y2="434.67" stroke="#1a1a1a" stroke-width="1.0"/>
<line x1="72.00" y1="431.12" x2="73.80" y2="431.12" stroke="#1a1a1a" stroke-width="1.0"/>
<line x1="71.00" y1="427.57" x2="73.80" y2="427.57" stroke="#1a1a1a" stroke-width="1.0"/>
<line x1="72.00" y1="424.03" x2="73.80" y2="424.03" stroke="#1a1a1a" stroke-width="1.0"/>
<line x1="72.00" y1="420.49" x2="73.80" y2="420.49" stroke="#1a1a1a" stroke-width="1.0"/>
<line x1="72.00" y1="416.94" x2="73.80" y2="416.94" stroke="#1a1a1a" stroke-width="1.0"/>
<line x1="72.00" y1="413.39" x2="73.80" y2="413.39" stroke="#1a1a1a" stroke-width="1.0"/>
<line x1="71.00" y1="409.85" x2="73.80" y2="409.85" stroke="#1a1a1a" stroke-width="1.0"/>
<line x1="72.00" y1="406.31" x2="73.80" y2="406.31" stroke="#1a1a1a" stroke-width="1.0"/>
<line x1="72.00" y1="402.76" x2="73.80" y2="402.76" stroke="#1a1a1a" stroke-width="1.0"/>
<line x1="72.00" y1="399.22" x2="73.80" y2="399.22" stroke="#1a1a1a" stroke-width="1.0"/>
<line x1="72.00" y1="395.67" x2="73.80" y2="395.67" stroke="#1a1a1a" stroke-width="1.0"/>
<line x1="71.00" y1="392.12" x2="73.80" y2="392.12" stroke="#1a1a1a" stroke-width="1.0"/>
<line x1="72.00" y1="388.58" x2="73.80" y2="388.58" stroke="#1a1a1a" stroke-width="1.0"/>
<line x1="72.00" y1="385.04" x2="73.80" y2="385.04" stroke="#1a1a1a" stroke-width="1.0"/>
<line x1="72.00" y1="381.49" x2="73.80" y2="381.49" stroke="#1a1a1a" stroke-width="1.0"/>
<line x1="72.00" y1="377.94" x2="73.80" y2="377.94" stroke="#1a1a1a" stroke-width="1.0"/>
<line x1="71.00" y1="374.40" x2="73.80" y2="374.40" stroke="#1a1a1a" stroke-width="1.0"/>
<rect x="71.00" y="372.20" width="6.00" height="1.60" fill="#fff"/>
<line x1="71.80" y1="371.60" x2="76.00" y2="371.60" stroke="#1a1a1a" stroke-width="1.5"/>
<line x1="71.80" y1="374.50" x2="76.00" y2="374.50" stroke="#1a1a1a" stroke-width="1.5"/>
<text x="45.41" y="348.50" font-size="7.7" fill="#1a1a1a" font-weight="normal" font-style="normal" textLength="22.48" lengthAdjust="spacingAndGlyphs" stroke="#1a1a1a" stroke-width="0.1">10000</text>
<text x="49.89" y="361.20" font-size="7.7" fill="#1a1a1a" font-weight="normal" font-style="normal" textLength="17.99" lengthAdjust="spacingAndGlyphs" stroke="#1a1a1a" stroke-width="0.1">6000</text>
<text x="49.89" y="377.10" font-size="7.7" fill="#1a1a1a" font-weight="normal" font-style="normal" textLength="17.99" lengthAdjust="spacingAndGlyphs" stroke="#1a1a1a" stroke-width="0.1">2000</text>
<text x="49.89" y="395.20" font-size="7.7" fill="#1a1a1a" font-weight="normal" font-style="normal" textLength="17.99" lengthAdjust="spacingAndGlyphs" stroke="#1a1a1a" stroke-width="0.1">1500</text>
<text x="49.89" y="412.30" font-size="7.7" fill="#1a1a1a" font-weight="normal" font-style="normal" textLength="17.99" lengthAdjust="spacingAndGlyphs" stroke="#1a1a1a" stroke-width="0.1">1000</text>
<text x="54.42" y="429.90" font-size="7.7" fill="#1a1a1a" font-weight="normal" font-style="normal" textLength="13.49" lengthAdjust="spacingAndGlyphs" stroke="#1a1a1a" stroke-width="0.1">500</text>
<text x="63.40" y="447.80" font-size="7.7" fill="#1a1a1a" font-weight="normal" font-style="normal" textLength="4.50" lengthAdjust="spacingAndGlyphs" stroke="#1a1a1a" stroke-width="0.1">0</text>
<line x1="74.90" y1="446.40" x2="74.90" y2="448.80" stroke="#1a1a1a" stroke-width="0.8"/>
<line x1="78.36" y1="446.40" x2="78.36" y2="447.90" stroke="#1a1a1a" stroke-width="0.8"/>
<line x1="81.82" y1="446.40" x2="81.82" y2="447.90" stroke="#1a1a1a" stroke-width="0.8"/>
<line x1="85.28" y1="446.40" x2="85.28" y2="447.90" stroke="#1a1a1a" stroke-width="0.8"/>
<line x1="88.74" y1="446.40" x2="88.74" y2="447.90" stroke="#1a1a1a" stroke-width="0.8"/>
<line x1="92.20" y1="446.40" x2="92.20" y2="448.80" stroke="#1a1a1a" stroke-width="0.8"/>
<line x1="95.66" y1="446.40" x2="95.66" y2="447.90" stroke="#1a1a1a" stroke-width="0.8"/>
<line x1="99.12" y1="446.40" x2="99.12" y2="447.90" stroke="#1a1a1a" stroke-width="0.8"/>
<line x1="102.58" y1="446.40" x2="102.58" y2="447.90" stroke="#1a1a1a" stroke-width="0.8"/>
<line x1="106.04" y1="446.40" x2="106.04" y2="447.90" stroke="#1a1a1a" stroke-width="0.8"/>
<line x1="109.50" y1="446.40" x2="109.50" y2="448.80" stroke="#1a1a1a" stroke-width="0.8"/>
<line x1="112.96" y1="446.40" x2="112.96" y2="447.90" stroke="#1a1a1a" stroke-width="0.8"/>
<line x1="116.42" y1="446.40" x2="116.42" y2="447.90" stroke="#1a1a1a" stroke-width="0.8"/>
<line x1="119.88" y1="446.40" x2="119.88" y2="447.90" stroke="#1a1a1a" stroke-width="0.8"/>
<line x1="123.34" y1="446.40" x2="123.34" y2="447.90" stroke="#1a1a1a" stroke-width="0.8"/>
<line x1="126.80" y1="446.40" x2="126.80" y2="448.80" stroke="#1a1a1a" stroke-width="0.8"/>
<line x1="130.26" y1="446.40" x2="130.26" y2="447.90" stroke="#1a1a1a" stroke-width="0.8"/>
<line x1="133.72" y1="446.40" x2="133.72" y2="447.90" stroke="#1a1a1a" stroke-width="0.8"/>
<line x1="137.18" y1="446.40" x2="137.18" y2="447.90" stroke="#1a1a1a" stroke-width="0.8"/>
<line x1="140.64" y1="446.40" x2="140.64" y2="447.90" stroke="#1a1a1a" stroke-width="0.8"/>
<line x1="144.10" y1="446.40" x2="144.10" y2="448.80" stroke="#1a1a1a" stroke-width="0.8"/>
<line x1="147.56" y1="446.40" x2="147.56" y2="447.90" stroke="#1a1a1a" stroke-width="0.8"/>
<line x1="151.02" y1="446.40" x2="151.02" y2="447.90" stroke="#1a1a1a" stroke-width="0.8"/>
<line x1="154.48" y1="446.40" x2="154.48" y2="447.90" stroke="#1a1a1a" stroke-width="0.8"/>
<line x1="157.94" y1="446.40" x2="157.94" y2="447.90" stroke="#1a1a1a" stroke-width="0.8"/>
<line x1="161.40" y1="446.40" x2="161.40" y2="448.80" stroke="#1a1a1a" stroke-width="0.8"/>
<line x1="164.86" y1="446.40" x2="164.86" y2="447.90" stroke="#1a1a1a" stroke-width="0.8"/>
<line x1="168.32" y1="446.40" x2="168.32" y2="447.90" stroke="#1a1a1a" stroke-width="0.8"/>
<line x1="171.78" y1="446.40" x2="171.78" y2="447.90" stroke="#1a1a1a" stroke-width="0.8"/>
<line x1="175.24" y1="446.40" x2="175.24" y2="447.90" stroke="#1a1a1a" stroke-width="0.8"/>
<line x1="178.70" y1="446.40" x2="178.70" y2="448.80" stroke="#1a1a1a" stroke-width="0.8"/>
<line x1="182.16" y1="446.40" x2="182.16" y2="447.90" stroke="#1a1a1a" stroke-width="0.8"/>
<line x1="185.62" y1="446.40" x2="185.62" y2="447.90" stroke="#1a1a1a" stroke-width="0.8"/>
<line x1="189.08" y1="446.40" x2="189.08" y2="447.90" stroke="#1a1a1a" stroke-width="0.8"/>
<line x1="192.54" y1="446.40" x2="192.54" y2="447.90" stroke="#1a1a1a" stroke-width="0.8"/>
<line x1="196.00" y1="446.40" x2="196.00" y2="448.80" stroke="#1a1a1a" stroke-width="0.8"/>
<line x1="199.46" y1="446.40" x2="199.46" y2="447.90" stroke="#1a1a1a" stroke-width="0.8"/>
<line x1="202.92" y1="446.40" x2="202.92" y2="447.90" stroke="#1a1a1a" stroke-width="0.8"/>
<line x1="206.38" y1="446.40" x2="206.38" y2="447.90" stroke="#1a1a1a" stroke-width="0.8"/>
<line x1="209.84" y1="446.40" x2="209.84" y2="447.90" stroke="#1a1a1a" stroke-width="0.8"/>
<line x1="213.30" y1="446.40" x2="213.30" y2="448.80" stroke="#1a1a1a" stroke-width="0.8"/>
<line x1="216.76" y1="446.40" x2="216.76" y2="447.90" stroke="#1a1a1a" stroke-width="0.8"/>
<line x1="220.22" y1="446.40" x2="220.22" y2="447.90" stroke="#1a1a1a" stroke-width="0.8"/>
<line x1="223.68" y1="446.40" x2="223.68" y2="447.90" stroke="#1a1a1a" stroke-width="0.8"/>
<line x1="227.14" y1="446.40" x2="227.14" y2="447.90" stroke="#1a1a1a" stroke-width="0.8"/>
<line x1="230.60" y1="446.40" x2="230.60" y2="448.80" stroke="#1a1a1a" stroke-width="0.8"/>
<text x="72.67" y="458.60" font-size="7.6" fill="#1a1a1a" font-weight="normal" font-style="normal" textLength="4.44" lengthAdjust="spacingAndGlyphs" stroke="#1a1a1a" stroke-width="0.1">0</text>
<text x="89.99" y="458.60" font-size="7.6" fill="#1a1a1a" font-weight="normal" font-style="normal" textLength="4.44" lengthAdjust="spacingAndGlyphs" stroke="#1a1a1a" stroke-width="0.1">5</text>
<text x="104.91" y="458.60" font-size="7.6" fill="#1a1a1a" font-weight="normal" font-style="normal" textLength="8.88" lengthAdjust="spacingAndGlyphs" stroke="#1a1a1a" stroke-width="0.1">10</text>
<text x="122.23" y="458.60" font-size="7.6" fill="#1a1a1a" font-weight="normal" font-style="normal" textLength="8.88" lengthAdjust="spacingAndGlyphs" stroke="#1a1a1a" stroke-width="0.1">15</text>
<text x="139.61" y="458.60" font-size="7.6" fill="#1a1a1a" font-weight="normal" font-style="normal" textLength="8.88" lengthAdjust="spacingAndGlyphs" stroke="#1a1a1a" stroke-width="0.1">20</text>
<text x="156.93" y="458.60" font-size="7.6" fill="#1a1a1a" font-weight="normal" font-style="normal" textLength="8.88" lengthAdjust="spacingAndGlyphs" stroke="#1a1a1a" stroke-width="0.1">25</text>
<text x="174.25" y="458.60" font-size="7.6" fill="#1a1a1a" font-weight="normal" font-style="normal" textLength="8.88" lengthAdjust="spacingAndGlyphs" stroke="#1a1a1a" stroke-width="0.1">30</text>
<text x="191.57" y="458.60" font-size="7.6" fill="#1a1a1a" font-weight="normal" font-style="normal" textLength="8.88" lengthAdjust="spacingAndGlyphs" stroke="#1a1a1a" stroke-width="0.1">35</text>
<text x="208.93" y="458.60" font-size="7.6" fill="#1a1a1a" font-weight="normal" font-style="normal" textLength="8.88" lengthAdjust="spacingAndGlyphs" stroke="#1a1a1a" stroke-width="0.1">40</text>
<text x="226.25" y="458.60" font-size="7.6" fill="#1a1a1a" font-weight="normal" font-style="normal" textLength="8.88" lengthAdjust="spacingAndGlyphs" stroke="#1a1a1a" stroke-width="0.1">45</text>
<text x="118.31" y="471.80" font-size="9.9" fill="#1a1a1a" font-weight="bold" font-style="normal" textLength="70.36" lengthAdjust="spacingAndGlyphs">Day after stem cell boost</text>
<text x="39.60" y="405.20" font-size="8.8" fill="#1a1a1a" font-weight="normal" font-style="normal" textLength="21.35" lengthAdjust="spacingAndGlyphs" stroke="#1a1a1a" stroke-width="0.28" transform="rotate(-90 39.60 405.20)">ANC/µl</text>
<polyline points="74.50,423.80 82.50,418.00 116.20,422.90 140.80,399.20" fill="none" stroke="#f5a040" stroke-width="1.45" stroke-linejoin="round" stroke-linecap="butt"/>
<polyline points="74.50,406.50 102.70,368.70" fill="none" stroke="#2a5f95" stroke-width="1.45" stroke-linejoin="round" stroke-linecap="butt"/>
<polyline points="106.20,445.30 116.90,439.60 119.20,434.20 121.00,425.00 127.70,388.30 133.60,384.20 153.40,403.40 224.00,369.60" fill="none" stroke="#4cb85a" stroke-width="1.45" stroke-linejoin="round" stroke-linecap="butt"/>
<polyline points="74.50,413.30 174.60,378.30 223.00,374.40" fill="none" stroke="#c4702d" stroke-width="1.45" stroke-linejoin="round" stroke-linecap="butt"/>
<polyline points="74.50,352.70 126.30,359.40 160.00,358.60 178.50,358.70" fill="none" stroke="#e5258c" stroke-width="1.45" stroke-linejoin="round" stroke-linecap="butt"/>
<polyline points="113.80,438.80 127.70,425.00 156.70,400.00 195.80,368.70 230.40,368.70" fill="none" stroke="#2aaae2" stroke-width="1.45" stroke-linejoin="round" stroke-linecap="butt"/>
<polyline points="74.50,427.30 213.00,387.30" fill="none" stroke="#5e2d83" stroke-width="1.45" stroke-linejoin="round" stroke-linecap="butt"/>
<polyline points="74.50,421.00 175.00,374.40 229.80,368.10" fill="none" stroke="#3f4d5f" stroke-width="1.45" stroke-linejoin="round" stroke-linecap="butt"/>
<polyline points="74.50,435.50 78.50,436.50 86.20,429.60 95.40,425.00 99.50,400.00 105.80,370.20 130.20,371.00 165.40,365.40 188.50,364.20" fill="none" stroke="#9e97d8" stroke-width="1.45" stroke-linejoin="round" stroke-linecap="butt"/>
<polyline points="99.80,445.30 106.20,445.30 113.10,438.50 117.70,425.00 119.60,412.30 122.90,408.50 129.60,381.20" fill="none" stroke="#d0213f" stroke-width="1.45" stroke-linejoin="round" stroke-linecap="butt"/>
<polyline points="74.50,445.30 100.50,445.30 103.00,441.00 105.60,427.70 108.50,400.00 111.30,375.00 113.00,360.00 116.70,346.90 129.20,346.50 133.00,349.40 135.40,348.50 137.90,349.00 147.50,361.90 160.00,364.80 185.60,368.70 192.30,359.60" fill="none" stroke="#a8c38f" stroke-width="1.45" stroke-linejoin="round" stroke-linecap="butt"/>
<polyline points="74.50,415.20 165.00,362.90 171.20,364.80" fill="none" stroke="#1b6a55" stroke-width="1.45" stroke-linejoin="round" stroke-linecap="butt"/>
<line x1="323.90" y1="341.70" x2="323.90" y2="446.90" stroke="#1a1a1a" stroke-width="1.1"/>
<line x1="323.40" y1="446.40" x2="483.50" y2="446.40" stroke="#1a1a1a" stroke-width="1.1"/>
<line x1="322.30" y1="368.38" x2="323.90" y2="368.38" stroke="#1a1a1a" stroke-width="0.8"/>
<line x1="322.30" y1="366.61" x2="323.90" y2="366.61" stroke="#1a1a1a" stroke-width="0.8"/>
<line x1="322.30" y1="364.84" x2="323.90" y2="364.84" stroke="#1a1a1a" stroke-width="0.8"/>
<line x1="322.30" y1="363.07" x2="323.90" y2="363.07" stroke="#1a1a1a" stroke-width="0.8"/>
<line x1="321.10" y1="361.30" x2="323.90" y2="361.30" stroke="#1a1a1a" stroke-width="1.0"/>
<line x1="322.30" y1="359.53" x2="323.90" y2="359.53" stroke="#1a1a1a" stroke-width="0.8"/>
<line x1="322.30" y1="357.76" x2="323.90" y2="357.76" stroke="#1a1a1a" stroke-width="0.8"/>
<line x1="322.30" y1="355.99" x2="323.90" y2="355.99" stroke="#1a1a1a" stroke-width="0.8"/>
<line x1="322.30" y1="354.22" x2="323.90" y2="354.22" stroke="#1a1a1a" stroke-width="0.8"/>
<line x1="321.10" y1="352.45" x2="323.90" y2="352.45" stroke="#1a1a1a" stroke-width="1.0"/>
<line x1="322.30" y1="350.68" x2="323.90" y2="350.68" stroke="#1a1a1a" stroke-width="0.8"/>
<line x1="322.30" y1="348.91" x2="323.90" y2="348.91" stroke="#1a1a1a" stroke-width="0.8"/>
<line x1="322.30" y1="347.14" x2="323.90" y2="347.14" stroke="#1a1a1a" stroke-width="0.8"/>
<line x1="322.30" y1="345.37" x2="323.90" y2="345.37" stroke="#1a1a1a" stroke-width="0.8"/>
<line x1="321.10" y1="343.60" x2="323.90" y2="343.60" stroke="#1a1a1a" stroke-width="1.0"/>
<line x1="322.30" y1="341.83" x2="323.90" y2="341.83" stroke="#1a1a1a" stroke-width="0.8"/>
<line x1="321.10" y1="443.20" x2="323.90" y2="443.20" stroke="#1a1a1a" stroke-width="1.0"/>
<line x1="322.10" y1="438.47" x2="323.90" y2="438.47" stroke="#1a1a1a" stroke-width="1.0"/>
<line x1="322.10" y1="433.73" x2="323.90" y2="433.73" stroke="#1a1a1a" stroke-width="1.0"/>
<line x1="322.10" y1="429.00" x2="323.90" y2="429.00" stroke="#1a1a1a" stroke-width="1.0"/>
<line x1="322.10" y1="424.27" x2="323.90" y2="424.27" stroke="#1a1a1a" stroke-width="1.0"/>
<line x1="321.10" y1="419.53" x2="323.90" y2="419.53" stroke="#1a1a1a" stroke-width="1.0"/>
<line x1="322.10" y1="414.80" x2="323.90" y2="414.80" stroke="#1a1a1a" stroke-width="1.0"/>
<line x1="322.10" y1="410.07" x2="323.90" y2="410.07" stroke="#1a1a1a" stroke-width="1.0"/>
<line x1="322.10" y1="405.34" x2="323.90" y2="405.34" stroke="#1a1a1a" stroke-width="1.0"/>
<line x1="322.10" y1="400.60" x2="323.90" y2="400.60" stroke="#1a1a1a" stroke-width="1.0"/>
<line x1="321.10" y1="395.87" x2="323.90" y2="395.87" stroke="#1a1a1a" stroke-width="1.0"/>
<line x1="322.10" y1="391.14" x2="323.90" y2="391.14" stroke="#1a1a1a" stroke-width="1.0"/>
<line x1="322.10" y1="386.40" x2="323.90" y2="386.40" stroke="#1a1a1a" stroke-width="1.0"/>
<line x1="322.10" y1="381.67" x2="323.90" y2="381.67" stroke="#1a1a1a" stroke-width="1.0"/>
<line x1="322.10" y1="376.94" x2="323.90" y2="376.94" stroke="#1a1a1a" stroke-width="1.0"/>
<line x1="321.10" y1="372.20" x2="323.90" y2="372.20" stroke="#1a1a1a" stroke-width="1.0"/>
<rect x="320.60" y="369.90" width="6.00" height="1.60" fill="#fff"/>
<line x1="321.80" y1="369.20" x2="325.90" y2="369.20" stroke="#1a1a1a" stroke-width="1.5"/>
<line x1="321.80" y1="372.20" x2="325.90" y2="372.20" stroke="#1a1a1a" stroke-width="1.5"/>
<text x="304.32" y="346.30" font-size="7.7" fill="#1a1a1a" font-weight="normal" font-style="normal" textLength="13.49" lengthAdjust="spacingAndGlyphs" stroke="#1a1a1a" stroke-width="0.1">300</text>
<text x="304.32" y="355.10" font-size="7.7" fill="#1a1a1a" font-weight="normal" font-style="normal" textLength="13.49" lengthAdjust="spacingAndGlyphs" stroke="#1a1a1a" stroke-width="0.1">250</text>
<text x="304.32" y="364.00" font-size="7.7" fill="#1a1a1a" font-weight="normal" font-style="normal" textLength="13.49" lengthAdjust="spacingAndGlyphs" stroke="#1a1a1a" stroke-width="0.1">200</text>
<text x="304.32" y="374.90" font-size="7.7" fill="#1a1a1a" font-weight="normal" font-style="normal" textLength="13.49" lengthAdjust="spacingAndGlyphs" stroke="#1a1a1a" stroke-width="0.1">150</text>
<text x="304.32" y="398.40" font-size="7.7" fill="#1a1a1a" font-weight="normal" font-style="normal" textLength="13.49" lengthAdjust="spacingAndGlyphs" stroke="#1a1a1a" stroke-width="0.1">100</text>
<text x="308.81" y="422.30" font-size="7.7" fill="#1a1a1a" font-weight="normal" font-style="normal" textLength="8.99" lengthAdjust="spacingAndGlyphs" stroke="#1a1a1a" stroke-width="0.1">50</text>
<text x="313.30" y="445.90" font-size="7.7" fill="#1a1a1a" font-weight="normal" font-style="normal" textLength="4.50" lengthAdjust="spacingAndGlyphs" stroke="#1a1a1a" stroke-width="0.1">0</text>
<line x1="325.00" y1="446.40" x2="325.00" y2="448.80" stroke="#1a1a1a" stroke-width="0.8"/>
<line x1="328.47" y1="446.40" x2="328.47" y2="447.90" stroke="#1a1a1a" stroke-width="0.8"/>
<line x1="331.93" y1="446.40" x2="331.93" y2="447.90" stroke="#1a1a1a" stroke-width="0.8"/>
<line x1="335.40" y1="446.40" x2="335.40" y2="447.90" stroke="#1a1a1a" stroke-width="0.8"/>
<line x1="338.87" y1="446.40" x2="338.87" y2="447.90" stroke="#1a1a1a" stroke-width="0.8"/>
<line x1="342.33" y1="446.40" x2="342.33" y2="448.80" stroke="#1a1a1a" stroke-width="0.8"/>
<line x1="345.80" y1="446.40" x2="345.80" y2="447.90" stroke="#1a1a1a" stroke-width="0.8"/>
<line x1="349.27" y1="446.40" x2="349.27" y2="447.90" stroke="#1a1a1a" stroke-width="0.8"/>
<line x1="352.74" y1="446.40" x2="352.74" y2="447.90" stroke="#1a1a1a" stroke-width="0.8"/>
<line x1="356.20" y1="446.40" x2="356.20" y2="447.90" stroke="#1a1a1a" stroke-width="0.8"/>
<line x1="359.67" y1="446.40" x2="359.67" y2="448.80" stroke="#1a1a1a" stroke-width="0.8"/>
<line x1="363.14" y1="446.40" x2="363.14" y2="447.90" stroke="#1a1a1a" stroke-width="0.8"/>
<line x1="366.60" y1="446.40" x2="366.60" y2="447.90" stroke="#1a1a1a" stroke-width="0.8"/>
<line x1="370.07" y1="446.40" x2="370.07" y2="447.90" stroke="#1a1a1a" stroke-width="0.8"/>
<line x1="373.54" y1="446.40" x2="373.54" y2="447.90" stroke="#1a1a1a" stroke-width="0.8"/>
<line x1="377.00" y1="446.40" x2="377.00" y2="448.80" stroke="#1a1a1a" stroke-width="0.8"/>
<line x1="380.47" y1="446.40" x2="380.47" y2="447.90" stroke="#1a1a1a" stroke-width="0.8"/>
<line x1="383.94" y1="446.40" x2="383.94" y2="447.90" stroke="#1a1a1a" stroke-width="0.8"/>
<line x1="387.41" y1="446.40" x2="387.41" y2="447.90" stroke="#1a1a1a" stroke-width="0.8"/>
<line x1="390.87" y1="446.40" x2="390.87" y2="447.90" stroke="#1a1a1a" stroke-width="0.8"/>
<line x1="394.34" y1="446.40" x2="394.34" y2="448.80" stroke="#1a1a1a" stroke-width="0.8"/>
<line x1="397.81" y1="446.40" x2="397.81" y2="447.90" stroke="#1a1a1a" stroke-width="0.8"/>
<line x1="401.27" y1="446.40" x2="401.27" y2="447.90" stroke="#1a1a1a" stroke-width="0.8"/>
<line x1="404.74" y1="446.40" x2="404.74" y2="447.90" stroke="#1a1a1a" stroke-width="0.8"/>
<line x1="408.21" y1="446.40" x2="408.21" y2="447.90" stroke="#1a1a1a" stroke-width="0.8"/>
<line x1="411.68" y1="446.40" x2="411.68" y2="448.80" stroke="#1a1a1a" stroke-width="0.8"/>
<line x1="415.14" y1="446.40" x2="415.14" y2="447.90" stroke="#1a1a1a" stroke-width="0.8"/>
<line x1="418.61" y1="446.40" x2="418.61" y2="447.90" stroke="#1a1a1a" stroke-width="0.8"/>
<line x1="422.08" y1="446.40" x2="422.08" y2="447.90" stroke="#1a1a1a" stroke-width="0.8"/>
<line x1="425.54" y1="446.40" x2="425.54" y2="447.90" stroke="#1a1a1a" stroke-width="0.8"/>
<line x1="429.01" y1="446.40" x2="429.01" y2="448.80" stroke="#1a1a1a" stroke-width="0.8"/>
<line x1="432.48" y1="446.40" x2="432.48" y2="447.90" stroke="#1a1a1a" stroke-width="0.8"/>
<line x1="435.94" y1="446.40" x2="435.94" y2="447.90" stroke="#1a1a1a" stroke-width="0.8"/>
<line x1="439.41" y1="446.40" x2="439.41" y2="447.90" stroke="#1a1a1a" stroke-width="0.8"/>
<line x1="442.88" y1="446.40" x2="442.88" y2="447.90" stroke="#1a1a1a" stroke-width="0.8"/>
<line x1="446.35" y1="446.40" x2="446.35" y2="448.80" stroke="#1a1a1a" stroke-width="0.8"/>
<line x1="449.81" y1="446.40" x2="449.81" y2="447.90" stroke="#1a1a1a" stroke-width="0.8"/>
<line x1="453.28" y1="446.40" x2="453.28" y2="447.90" stroke="#1a1a1a" stroke-width="0.8"/>
<line x1="456.75" y1="446.40" x2="456.75" y2="447.90" stroke="#1a1a1a" stroke-width="0.8"/>
<line x1="460.21" y1="446.40" x2="460.21" y2="447.90" stroke="#1a1a1a" stroke-width="0.8"/>
<line x1="463.68" y1="446.40" x2="463.68" y2="448.80" stroke="#1a1a1a" stroke-width="0.8"/>
<line x1="467.15" y1="446.40" x2="467.15" y2="447.90" stroke="#1a1a1a" stroke-width="0.8"/>
<line x1="470.61" y1="446.40" x2="470.61" y2="447.90" stroke="#1a1a1a" stroke-width="0.8"/>
<line x1="474.08" y1="446.40" x2="474.08" y2="447.90" stroke="#1a1a1a" stroke-width="0.8"/>
<line x1="477.55" y1="446.40" x2="477.55" y2="447.90" stroke="#1a1a1a" stroke-width="0.8"/>
<line x1="481.01" y1="446.40" x2="481.01" y2="448.80" stroke="#1a1a1a" stroke-width="0.8"/>
<text x="322.77" y="458.40" font-size="7.6" fill="#1a1a1a" font-weight="normal" font-style="normal" textLength="4.44" lengthAdjust="spacingAndGlyphs" stroke="#1a1a1a" stroke-width="0.1">0</text>
<text x="340.12" y="458.40" font-size="7.6" fill="#1a1a1a" font-weight="normal" font-style="normal" textLength="4.44" lengthAdjust="spacingAndGlyphs" stroke="#1a1a1a" stroke-width="0.1">5</text>
<text x="355.08" y="458.40" font-size="7.6" fill="#1a1a1a" font-weight="normal" font-style="normal" textLength="8.88" lengthAdjust="spacingAndGlyphs" stroke="#1a1a1a" stroke-width="0.1">10</text>
<text x="372.44" y="458.40" font-size="7.6" fill="#1a1a1a" font-weight="normal" font-style="normal" textLength="8.88" lengthAdjust="spacingAndGlyphs" stroke="#1a1a1a" stroke-width="0.1">15</text>
<text x="389.85" y="458.40" font-size="7.6" fill="#1a1a1a" font-weight="normal" font-style="normal" textLength="8.88" lengthAdjust="spacingAndGlyphs" stroke="#1a1a1a" stroke-width="0.1">20</text>
<text x="407.21" y="458.40" font-size="7.6" fill="#1a1a1a" font-weight="normal" font-style="normal" textLength="8.88" lengthAdjust="spacingAndGlyphs" stroke="#1a1a1a" stroke-width="0.1">25</text>
<text x="424.56" y="458.40" font-size="7.6" fill="#1a1a1a" font-weight="normal" font-style="normal" textLength="8.88" lengthAdjust="spacingAndGlyphs" stroke="#1a1a1a" stroke-width="0.1">30</text>
<text x="441.92" y="458.40" font-size="7.6" fill="#1a1a1a" font-weight="normal" font-style="normal" textLength="8.88" lengthAdjust="spacingAndGlyphs" stroke="#1a1a1a" stroke-width="0.1">35</text>
<text x="459.31" y="458.40" font-size="7.6" fill="#1a1a1a" font-weight="normal" font-style="normal" textLength="8.88" lengthAdjust="spacingAndGlyphs" stroke="#1a1a1a" stroke-width="0.1">40</text>
<text x="476.67" y="458.40" font-size="7.6" fill="#1a1a1a" font-weight="normal" font-style="normal" textLength="8.88" lengthAdjust="spacingAndGlyphs" stroke="#1a1a1a" stroke-width="0.1">45</text>
<text x="368.41" y="471.20" font-size="9.9" fill="#1a1a1a" font-weight="bold" font-style="normal" textLength="70.86" lengthAdjust="spacingAndGlyphs">Day after stem cell boost</text>
<text x="298.90" y="421.41" font-size="9.2" fill="#1a1a1a" font-weight="bold" font-style="normal" textLength="55.11" lengthAdjust="spacingAndGlyphs" transform="rotate(-90 298.90 421.41)">Platelet count (G/l)</text>
<line x1="489.30" y1="350.50" x2="497.80" y2="350.50" stroke="#1b6a55" stroke-width="1.3"/>
<text x="500.97" y="352.70" font-size="7.1" fill="#1a1a1a" font-weight="normal" font-style="normal" textLength="7.66" lengthAdjust="spacingAndGlyphs" stroke="#1a1a1a" stroke-width="0.12">#1</text>
<line x1="489.30" y1="358.50" x2="497.80" y2="358.50" stroke="#a8c38f" stroke-width="1.3"/>
<text x="500.96" y="360.67" font-size="7.1" fill="#1a1a1a" font-weight="normal" font-style="normal" textLength="8.43" lengthAdjust="spacingAndGlyphs" stroke="#1a1a1a" stroke-width="0.12">#2</text>
<line x1="489.30" y1="366.50" x2="497.80" y2="366.50" stroke="#d0213f" stroke-width="1.3"/>
<text x="500.96" y="368.64" font-size="7.1" fill="#1a1a1a" font-weight="normal" font-style="normal" textLength="8.36" lengthAdjust="spacingAndGlyphs" stroke="#1a1a1a" stroke-width="0.12">#3</text>
<line x1="489.30" y1="374.50" x2="497.80" y2="374.50" stroke="#9e97d8" stroke-width="1.3"/>
<text x="500.96" y="376.61" font-size="7.1" fill="#1a1a1a" font-weight="normal" font-style="normal" textLength="8.28" lengthAdjust="spacingAndGlyphs" stroke="#1a1a1a" stroke-width="0.12">#4</text>
<line x1="489.30" y1="382.50" x2="497.80" y2="382.50" stroke="#3f4d5f" stroke-width="1.3"/>
<text x="500.96" y="384.58" font-size="7.1" fill="#1a1a1a" font-weight="normal" font-style="normal" textLength="8.36" lengthAdjust="spacingAndGlyphs" stroke="#1a1a1a" stroke-width="0.12">#5</text>
<line x1="489.30" y1="390.50" x2="497.80" y2="390.50" stroke="#5e2d83" stroke-width="1.3"/>
<text x="500.96" y="392.55" font-size="7.1" fill="#1a1a1a" font-weight="normal" font-style="normal" textLength="8.36" lengthAdjust="spacingAndGlyphs" stroke="#1a1a1a" stroke-width="0.12">#6</text>
<line x1="489.30" y1="398.50" x2="497.80" y2="398.50" stroke="#2aaae2" stroke-width="1.3"/>
<text x="500.96" y="400.52" font-size="7.1" fill="#1a1a1a" font-weight="normal" font-style="normal" textLength="11.06" lengthAdjust="spacingAndGlyphs" stroke="#1a1a1a" stroke-width="0.12">#7*</text>
<line x1="489.30" y1="406.50" x2="497.80" y2="406.50" stroke="#e5258c" stroke-width="1.3"/>
<text x="500.96" y="408.49" font-size="7.1" fill="#1a1a1a" font-weight="normal" font-style="normal" textLength="8.36" lengthAdjust="spacingAndGlyphs" stroke="#1a1a1a" stroke-width="0.12">#8</text>
<line x1="489.30" y1="414.50" x2="497.80" y2="414.50" stroke="#c4702d" stroke-width="1.3"/>
<text x="500.96" y="416.46" font-size="7.1" fill="#1a1a1a" font-weight="normal" font-style="normal" textLength="8.40" lengthAdjust="spacingAndGlyphs" stroke="#1a1a1a" stroke-width="0.12">#9</text>
<line x1="489.30" y1="422.50" x2="497.80" y2="422.50" stroke="#4cb85a" stroke-width="1.3"/>
<text x="500.96" y="424.43" font-size="7.1" fill="#1a1a1a" font-weight="normal" font-style="normal" textLength="12.42" lengthAdjust="spacingAndGlyphs" stroke="#1a1a1a" stroke-width="0.12">#10</text>
<line x1="489.30" y1="430.50" x2="497.80" y2="430.50" stroke="#2a5f95" stroke-width="1.3"/>
<text x="500.96" y="432.40" font-size="7.1" fill="#1a1a1a" font-weight="normal" font-style="normal" textLength="11.76" lengthAdjust="spacingAndGlyphs" stroke="#1a1a1a" stroke-width="0.12">#11</text>
<line x1="489.30" y1="438.50" x2="497.80" y2="438.50" stroke="#f5a040" stroke-width="1.3"/>
<text x="500.96" y="440.37" font-size="7.1" fill="#1a1a1a" font-weight="normal" font-style="normal" textLength="12.54" lengthAdjust="spacingAndGlyphs" stroke="#1a1a1a" stroke-width="0.12">#12</text>
<polyline points="324.50,438.10 363.10,432.70 366.90,425.00 372.30,409.60 377.70,400.40 380.30,388.10 390.80,367.60" fill="none" stroke="#f5a040" stroke-width="1.45" stroke-linejoin="round" stroke-linecap="butt"/>
<polyline points="324.50,426.50 352.60,371.90" fill="none" stroke="#2a5f95" stroke-width="1.45" stroke-linejoin="round" stroke-linecap="butt"/>
<polyline points="324.50,437.30 400.00,436.50 405.10,434.00 459.00,385.00 481.00,364.40" fill="none" stroke="#4cb85a" stroke-width="1.45" stroke-linejoin="round" stroke-linecap="butt"/>
<polyline points="324.50,402.70 370.00,389.30 400.00,394.20 426.10,398.20 474.50,396.30" fill="none" stroke="#c4702d" stroke-width="1.45" stroke-linejoin="round" stroke-linecap="butt"/>
<polyline points="324.50,426.80 353.10,429.60 387.40,369.20" fill="none" stroke="#e5258c" stroke-width="1.45" stroke-linejoin="round" stroke-linecap="butt"/>
<polyline points="324.50,441.90 341.50,441.20 395.00,438.00 422.40,435.80 443.40,433.40 463.60,428.50 470.90,432.50 477.60,424.30" fill="none" stroke="#2aaae2" stroke-width="1.45" stroke-linejoin="round" stroke-linecap="butt"/>
<polyline points="324.50,379.90 463.90,358.90" fill="none" stroke="#5e2d83" stroke-width="1.45" stroke-linejoin="round" stroke-linecap="butt"/>
<polyline points="324.50,438.10 425.20,403.30 454.40,385.00 481.00,367.00" fill="none" stroke="#3f4d5f" stroke-width="1.45" stroke-linejoin="round" stroke-linecap="butt"/>
<polyline points="324.50,440.00 357.70,438.10 370.80,419.60 381.50,412.40 442.90,412.10" fill="none" stroke="#9e97d8" stroke-width="1.45" stroke-linejoin="round" stroke-linecap="butt"/>
<polyline points="324.50,437.30 333.80,438.00 346.20,438.80 358.50,438.10 366.20,441.20 370.80,438.80 373.80,439.30 380.00,438.10" fill="none" stroke="#d0213f" stroke-width="1.45" stroke-linejoin="round" stroke-linecap="butt"/>
<polyline points="324.50,426.80 342.30,438.80 358.50,431.20 366.90,420.70 380.80,415.00 387.70,408.10 396.90,391.20 398.50,390.00 421.80,383.40 436.50,374.40 442.60,366.70" fill="none" stroke="#a8c38f" stroke-width="1.45" stroke-linejoin="round" stroke-linecap="butt"/>
<polyline points="324.50,408.40 415.40,361.80 418.70,344.00" fill="none" stroke="#1b6a55" stroke-width="1.45" stroke-linejoin="round" stroke-linecap="butt"/>
<text x="6.74" y="491.10" font-size="10.5" fill="#000" font-weight="bold" font-style="normal" textLength="7.79" lengthAdjust="spacingAndGlyphs" stroke="#000" stroke-width="0.35">E</text>
<text x="74.81" y="491.30" font-size="9.9" fill="#1a1a1a" font-weight="normal" font-style="normal" textLength="191.78" lengthAdjust="spacingAndGlyphs" stroke="#1a1a1a" stroke-width="0.1">Overall and progression-free survival from CAR-T</text>
<line x1="74.10" y1="497.80" x2="74.10" y2="632.00" stroke="#2e2e2e" stroke-width="1.3"/>
<line x1="73.50" y1="631.50" x2="268.00" y2="631.50" stroke="#2e2e2e" stroke-width="1.1"/>
<line x1="71.10" y1="631.30" x2="74.10" y2="631.30" stroke="#2e2e2e" stroke-width="0.9"/>
<text x="63.90" y="633.90" font-size="7.3" fill="#1a1a1a" font-weight="normal" font-style="normal" textLength="4.38" lengthAdjust="spacingAndGlyphs" stroke="#1a1a1a" stroke-width="0.1">0</text>
<line x1="71.10" y1="598.62" x2="74.10" y2="598.62" stroke="#2e2e2e" stroke-width="0.9"/>
<text x="59.56" y="601.23" font-size="7.3" fill="#1a1a1a" font-weight="normal" font-style="normal" textLength="8.77" lengthAdjust="spacingAndGlyphs" stroke="#1a1a1a" stroke-width="0.1">25</text>
<line x1="71.10" y1="565.95" x2="74.10" y2="565.95" stroke="#2e2e2e" stroke-width="0.9"/>
<text x="59.52" y="568.55" font-size="7.3" fill="#1a1a1a" font-weight="normal" font-style="normal" textLength="8.77" lengthAdjust="spacingAndGlyphs" stroke="#1a1a1a" stroke-width="0.1">50</text>
<line x1="71.10" y1="533.27" x2="74.10" y2="533.27" stroke="#2e2e2e" stroke-width="0.9"/>
<text x="59.56" y="535.88" font-size="7.3" fill="#1a1a1a" font-weight="normal" font-style="normal" textLength="8.77" lengthAdjust="spacingAndGlyphs" stroke="#1a1a1a" stroke-width="0.1">75</text>
<line x1="71.10" y1="500.60" x2="74.10" y2="500.60" stroke="#2e2e2e" stroke-width="0.9"/>
<text x="55.15" y="503.20" font-size="7.3" fill="#1a1a1a" font-weight="normal" font-style="normal" textLength="13.15" lengthAdjust="spacingAndGlyphs" stroke="#1a1a1a" stroke-width="0.1">100</text>
<line x1="74.10" y1="631.50" x2="74.10" y2="634.80" stroke="#2e2e2e" stroke-width="1.0"/>
<line x1="83.17" y1="631.50" x2="83.17" y2="633.80" stroke="#2e2e2e" stroke-width="1.0"/>
<line x1="92.25" y1="631.50" x2="92.25" y2="633.80" stroke="#2e2e2e" stroke-width="1.0"/>
<line x1="101.32" y1="631.50" x2="101.32" y2="633.80" stroke="#2e2e2e" stroke-width="1.0"/>
<line x1="110.40" y1="631.50" x2="110.40" y2="634.80" stroke="#2e2e2e" stroke-width="1.0"/>
<line x1="119.47" y1="631.50" x2="119.47" y2="633.80" stroke="#2e2e2e" stroke-width="1.0"/>
<line x1="128.55" y1="631.50" x2="128.55" y2="633.80" stroke="#2e2e2e" stroke-width="1.0"/>
<line x1="137.62" y1="631.50" x2="137.62" y2="633.80" stroke="#2e2e2e" stroke-width="1.0"/>
<line x1="146.70" y1="631.50" x2="146.70" y2="634.80" stroke="#2e2e2e" stroke-width="1.0"/>
<line x1="155.77" y1="631.50" x2="155.77" y2="633.80" stroke="#2e2e2e" stroke-width="1.0"/>
<line x1="164.85" y1="631.50" x2="164.85" y2="633.80" stroke="#2e2e2e" stroke-width="1.0"/>
<line x1="173.93" y1="631.50" x2="173.93" y2="633.80" stroke="#2e2e2e" stroke-width="1.0"/>
<line x1="183.00" y1="631.50" x2="183.00" y2="634.80" stroke="#2e2e2e" stroke-width="1.0"/>
<line x1="192.07" y1="631.50" x2="192.07" y2="633.80" stroke="#2e2e2e" stroke-width="1.0"/>
<line x1="201.15" y1="631.50" x2="201.15" y2="633.80" stroke="#2e2e2e" stroke-width="1.0"/>
<line x1="210.22" y1="631.50" x2="210.22" y2="633.80" stroke="#2e2e2e" stroke-width="1.0"/>
<line x1="219.30" y1="631.50" x2="219.30" y2="634.80" stroke="#2e2e2e" stroke-width="1.0"/>
<line x1="228.38" y1="631.50" x2="228.38" y2="633.80" stroke="#2e2e2e" stroke-width="1.0"/>
<line x1="237.45" y1="631.50" x2="237.45" y2="633.80" stroke="#2e2e2e" stroke-width="1.0"/>
<line x1="246.52" y1="631.50" x2="246.52" y2="633.80" stroke="#2e2e2e" stroke-width="1.0"/>
<line x1="255.60" y1="631.50" x2="255.60" y2="634.80" stroke="#2e2e2e" stroke-width="1.0"/>
<line x1="264.67" y1="631.50" x2="264.67" y2="633.80" stroke="#2e2e2e" stroke-width="1.0"/>
<text x="71.91" y="642.60" font-size="7.1" fill="#1a1a1a" font-weight="normal" font-style="normal" textLength="4.34" lengthAdjust="spacingAndGlyphs" stroke="#1a1a1a" stroke-width="0.1">0</text>
<text x="103.74" y="642.60" font-size="7.1" fill="#1a1a1a" font-weight="normal" font-style="normal" textLength="13.03" lengthAdjust="spacingAndGlyphs" stroke="#1a1a1a" stroke-width="0.1">180</text>
<text x="140.18" y="642.60" font-size="7.1" fill="#1a1a1a" font-weight="normal" font-style="normal" textLength="13.03" lengthAdjust="spacingAndGlyphs" stroke="#1a1a1a" stroke-width="0.1">360</text>
<text x="176.48" y="642.60" font-size="7.1" fill="#1a1a1a" font-weight="normal" font-style="normal" textLength="13.03" lengthAdjust="spacingAndGlyphs" stroke="#1a1a1a" stroke-width="0.1">540</text>
<text x="212.74" y="642.60" font-size="7.1" fill="#1a1a1a" font-weight="normal" font-style="normal" textLength="13.03" lengthAdjust="spacingAndGlyphs" stroke="#1a1a1a" stroke-width="0.1">720</text>
<text x="249.06" y="642.60" font-size="7.1" fill="#1a1a1a" font-weight="normal" font-style="normal" textLength="13.03" lengthAdjust="spacingAndGlyphs" stroke="#1a1a1a" stroke-width="0.1">900</text>
<text x="146.52" y="656.20" font-size="9.9" fill="#1a1a1a" font-weight="bold" font-style="normal" textLength="47.83" lengthAdjust="spacingAndGlyphs">Days after CAR-T</text>
<text x="50.00" y="594.37" font-size="9.6" fill="#1a1a1a" font-weight="bold" font-style="normal" textLength="59.96" lengthAdjust="spacingAndGlyphs" transform="rotate(-90 50.00 594.37)">Probability of survival</text>
<polyline points="74.10,500.60 85.60,500.60 85.60,511.60 91.10,511.60 91.10,523.70 94.00,523.70 94.00,535.60 95.75,535.60 95.75,559.50 110.00,559.50 110.00,571.60 193.40,571.60 193.40,586.20 255.70,586.20" fill="none" stroke="#d2203f" stroke-width="1.5" stroke-linejoin="round" stroke-linecap="butt"/>
<polyline points="91.10,511.60 97.80,511.60 97.80,523.70 107.90,523.70 107.90,535.30 117.70,535.30 117.70,547.50 140.00,547.50 140.00,559.50 174.90,559.50 174.90,573.80 260.30,573.80" fill="none" stroke="#2a64a0" stroke-width="1.5" stroke-linejoin="round" stroke-linecap="butt"/>
<line x1="200.30" y1="573.80" x2="200.30" y2="572.00" stroke="#2a64a0" stroke-width="1.0"/>
<line x1="207.20" y1="573.80" x2="207.20" y2="572.00" stroke="#2a64a0" stroke-width="1.0"/>
<line x1="255.70" y1="573.80" x2="255.70" y2="572.00" stroke="#2a64a0" stroke-width="1.0"/>
<line x1="260.30" y1="573.80" x2="260.30" y2="572.00" stroke="#2a64a0" stroke-width="1.0"/>
<line x1="170.30" y1="559.50" x2="170.30" y2="557.70" stroke="#2a64a0" stroke-width="1.0"/>
<line x1="170.30" y1="571.60" x2="170.30" y2="569.80" stroke="#d2203f" stroke-width="1.0"/>
<line x1="200.30" y1="586.20" x2="200.30" y2="584.40" stroke="#d2203f" stroke-width="1.0"/>
<line x1="207.20" y1="586.20" x2="207.20" y2="584.40" stroke="#d2203f" stroke-width="1.0"/>
<line x1="255.70" y1="586.20" x2="255.70" y2="584.40" stroke="#d2203f" stroke-width="1.0"/>
<line x1="88.30" y1="511.60" x2="88.30" y2="509.80" stroke="#d2203f" stroke-width="1.0"/>
<text x="186.73" y="543.50" font-size="7.6" fill="#2a64a0" font-weight="normal" font-style="italic" textLength="46.40" lengthAdjust="spacingAndGlyphs">Overall survival</text>
<text x="154.98" y="552.90" font-size="7.6" fill="#2a64a0" font-weight="normal" font-style="italic" textLength="110.62" lengthAdjust="spacingAndGlyphs">(median OS 17 months, 1-yr: 55%)</text>
<text x="171.89" y="598.50" font-size="7.6" fill="#d2203f" font-weight="normal" font-style="italic" textLength="76.53" lengthAdjust="spacingAndGlyphs">Progression-free survival</text>
<text x="154.48" y="607.00" font-size="7.6" fill="#d2203f" font-weight="normal" font-style="italic" textLength="112.24" lengthAdjust="spacingAndGlyphs">(median PFS: 6 months, 1-yr: 46%)</text>
<text x="291.59" y="491.10" font-size="10.5" fill="#000" font-weight="bold" font-style="normal" textLength="6.71" lengthAdjust="spacingAndGlyphs" stroke="#000" stroke-width="0.35">F</text>
<text x="352.49" y="491.30" font-size="9.9" fill="#1a1a1a" font-weight="normal" font-style="normal" textLength="113.06" lengthAdjust="spacingAndGlyphs" stroke="#1a1a1a" stroke-width="0.1">Objective response (day 90)</text>
<line x1="323.90" y1="498.00" x2="323.90" y2="631.70" stroke="#2a2a2a" stroke-width="1.4"/>
<line x1="323.30" y1="631.20" x2="494.20" y2="631.20" stroke="#1a1a1a" stroke-width="1.1"/>
<line x1="321.10" y1="631.30" x2="323.90" y2="631.30" stroke="#1a1a1a" stroke-width="1.0"/>
<line x1="321.90" y1="619.01" x2="323.90" y2="619.01" stroke="#1a1a1a" stroke-width="1.0"/>
<line x1="321.10" y1="606.72" x2="323.90" y2="606.72" stroke="#1a1a1a" stroke-width="1.0"/>
<line x1="321.90" y1="594.43" x2="323.90" y2="594.43" stroke="#1a1a1a" stroke-width="1.0"/>
<line x1="321.10" y1="582.14" x2="323.90" y2="582.14" stroke="#1a1a1a" stroke-width="1.0"/>
<line x1="321.90" y1="569.85" x2="323.90" y2="569.85" stroke="#1a1a1a" stroke-width="1.0"/>
<line x1="321.10" y1="557.56" x2="323.90" y2="557.56" stroke="#1a1a1a" stroke-width="1.0"/>
<line x1="321.90" y1="545.27" x2="323.90" y2="545.27" stroke="#1a1a1a" stroke-width="1.0"/>
<line x1="321.10" y1="532.98" x2="323.90" y2="532.98" stroke="#1a1a1a" stroke-width="1.0"/>
<line x1="321.90" y1="520.69" x2="323.90" y2="520.69" stroke="#1a1a1a" stroke-width="1.0"/>
<line x1="321.10" y1="508.40" x2="323.90" y2="508.40" stroke="#1a1a1a" stroke-width="1.0"/>
<text x="313.74" y="634.10" font-size="7.7" fill="#1a1a1a" font-weight="normal" font-style="normal" textLength="4.45" lengthAdjust="spacingAndGlyphs" stroke="#1a1a1a" stroke-width="0.1">0</text>
<text x="309.29" y="609.52" font-size="7.7" fill="#1a1a1a" font-weight="normal" font-style="normal" textLength="8.91" lengthAdjust="spacingAndGlyphs" stroke="#1a1a1a" stroke-width="0.1">20</text>
<text x="309.29" y="584.94" font-size="7.7" fill="#1a1a1a" font-weight="normal" font-style="normal" textLength="8.91" lengthAdjust="spacingAndGlyphs" stroke="#1a1a1a" stroke-width="0.1">40</text>
<text x="309.29" y="560.36" font-size="7.7" fill="#1a1a1a" font-weight="normal" font-style="normal" textLength="8.91" lengthAdjust="spacingAndGlyphs" stroke="#1a1a1a" stroke-width="0.1">60</text>
<text x="309.29" y="535.78" font-size="7.7" fill="#1a1a1a" font-weight="normal" font-style="normal" textLength="8.91" lengthAdjust="spacingAndGlyphs" stroke="#1a1a1a" stroke-width="0.1">80</text>
<text x="304.85" y="511.20" font-size="7.7" fill="#1a1a1a" font-weight="normal" font-style="normal" textLength="13.36" lengthAdjust="spacingAndGlyphs" stroke="#1a1a1a" stroke-width="0.1">100</text>
<rect x="353.60" y="518.20" width="34.30" height="62.10" fill="#c51230"/>
<rect x="353.60" y="580.30" width="34.30" height="50.90" fill="#eec4cc"/>
<rect x="442.40" y="621.50" width="34.70" height="9.70" fill="#134f86"/>
<line x1="370.80" y1="631.20" x2="370.80" y2="633.60" stroke="#1a1a1a" stroke-width="0.9"/>
<line x1="459.70" y1="631.20" x2="459.70" y2="633.60" stroke="#1a1a1a" stroke-width="0.9"/>
<text x="353.70" y="515.80" font-size="7.6" fill="#1a1a1a" font-weight="normal" font-style="normal" textLength="34.21" lengthAdjust="spacingAndGlyphs" stroke="#1a1a1a" stroke-width="0.1">92% ORR</text>
<text x="356.88" y="550.20" font-size="7.6" fill="#fff" font-weight="normal" font-style="normal" textLength="28.30" lengthAdjust="spacingAndGlyphs" stroke="#fff" stroke-width="0.1">50% CR</text>
<text x="359.45" y="559.30" font-size="7.6" fill="#fff" font-weight="normal" font-style="normal" textLength="22.03" lengthAdjust="spacingAndGlyphs" stroke="#fff" stroke-width="0.1"><tspan font-style="normal">(</tspan><tspan font-style="italic">n</tspan><tspan font-style="normal"> = 6)</tspan></text>
<text x="357.17" y="605.00" font-size="7.6" fill="#1a1a1a" font-weight="normal" font-style="normal" textLength="27.88" lengthAdjust="spacingAndGlyphs" stroke="#1a1a1a" stroke-width="0.1">42% PR</text>
<text x="359.45" y="612.90" font-size="7.6" fill="#1a1a1a" font-weight="normal" font-style="normal" textLength="22.03" lengthAdjust="spacingAndGlyphs" stroke="#1a1a1a" stroke-width="0.1"><tspan font-style="normal">(</tspan><tspan font-style="italic">n</tspan><tspan font-style="normal"> = 5)</tspan></text>
<text x="441.14" y="618.70" font-size="7.6" fill="#1a1a1a" font-weight="normal" font-style="normal" textLength="36.84" lengthAdjust="spacingAndGlyphs" stroke="#1a1a1a" stroke-width="0.1"><tspan font-style="normal">8% (</tspan><tspan font-style="italic">n</tspan><tspan font-style="normal"> = 1)</tspan></text>
<text x="361.92" y="642.80" font-size="8.0" fill="#1a1a1a" font-weight="normal" font-style="normal" textLength="17.78" lengthAdjust="spacingAndGlyphs" stroke="#1a1a1a" stroke-width="0.1">ORR</text>
<text x="454.02" y="642.80" font-size="8.0" fill="#1a1a1a" font-weight="normal" font-style="normal" textLength="11.11" lengthAdjust="spacingAndGlyphs" stroke="#1a1a1a" stroke-width="0.1">PD</text>
<text x="299.30" y="588.36" font-size="9.0" fill="#1a1a1a" font-weight="bold" font-style="normal" textLength="39.43" lengthAdjust="spacingAndGlyphs" transform="rotate(-90 299.30 588.36)">% of patients</text>
<rect x="0" y="0" width="520" height="1.25" fill="#000"/><rect x="0" y="662.6" width="520" height="1.4" fill="#000"/><rect x="0" y="0" width="1.2" height="664" fill="#000"/><rect x="518.8" y="0" width="1.2" height="664" fill="#000"/>
</svg>
</body></html>
